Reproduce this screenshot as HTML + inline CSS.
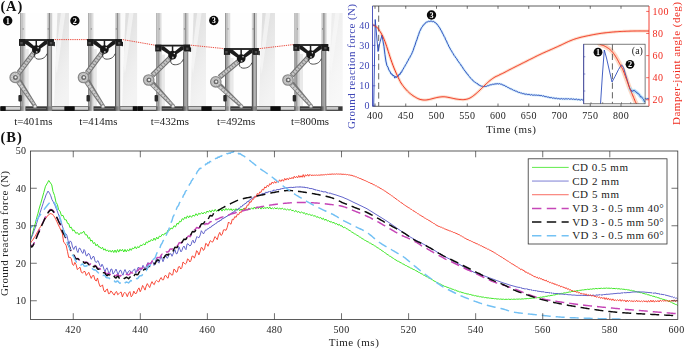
<!DOCTYPE html>
<html><head><meta charset="utf-8"><title>Figure</title>
<style>html,body{margin:0;padding:0;background:#fff;}body{width:685px;height:349px;overflow:hidden;font-family:"Liberation Serif",serif;}svg{display:block;position:absolute;left:0;top:0;opacity:0.999;}text{font-family:"Liberation Serif",serif;}</style></head><body>
<svg width="685" height="349" viewBox="0 0 685 349">
<defs>
<linearGradient id="rail" x1="0" x2="1" y1="0" y2="0"><stop offset="0" stop-color="#8a8a8a"/><stop offset="0.22" stop-color="#b2b2b2"/><stop offset="0.55" stop-color="#d2d2d2"/><stop offset="0.85" stop-color="#ececec"/><stop offset="1" stop-color="#c4c4c4"/></linearGradient>
<linearGradient id="rail2" x1="0" x2="1" y1="0" y2="0"><stop offset="0" stop-color="#7a7a7a"/><stop offset="0.25" stop-color="#a6a6a6"/><stop offset="0.6" stop-color="#c8c8c8"/><stop offset="0.85" stop-color="#dadada"/><stop offset="1" stop-color="#a8a8a8"/></linearGradient>
<linearGradient id="panel" x1="0" x2="0.35" y1="0" y2="1"><stop offset="0" stop-color="#dadada"/><stop offset="0.4" stop-color="#e6e6e6"/><stop offset="0.75" stop-color="#efefef"/><stop offset="1" stop-color="#f3f3f3"/></linearGradient>
<clipPath id="cpA"><rect x="372.5" y="6" width="276.5" height="100.3"/></clipPath>
<clipPath id="cpI"><rect x="583.7" y="44.2" width="61.4" height="59.6"/></clipPath>
<clipPath id="cpB"><rect x="30.5" y="151" width="647.3" height="168.5"/></clipPath>
<clipPath id="cpP"><rect x="0" y="13" width="343" height="98"/></clipPath>
</defs>
<g clip-path="url(#cpP)">
<rect x="0.0" y="13" width="69.0" height="98" fill="#fefefe"/>
<rect x="51.9" y="13" width="17.1" height="98" fill="url(#panel)" opacity="1.00"/>
<path d="M52.1 13 L57.4 13 L53.9 111 L52.1 111 Z" fill="#fbfbfb" opacity="0.95"/>
<path d="M60.9 13 L65.4 13 L56.9 74 L54.9 62 Z" fill="#f8f8f8" opacity="0.7"/>
<rect x="25.5" y="49.0" width="3.2" height="62.0" fill="#e9e9e9"/>
<rect x="0.0" y="106.3" width="69.0" height="4.6" fill="#3a3a3a"/>
<rect x="5.4" y="106.9" width="14.7" height="2.9" fill="#d2d2d2"/>
<rect x="26.1" y="108.2" width="20.0" height="1.0" fill="#7b7b7b"/>
<rect x="52.1" y="106.9" width="12.5" height="2.8" fill="#c6c6c6"/>
<rect x="1.0" y="106.3" width="4.6" height="4.6" fill="#0d0d0d"/>
<rect x="64.5" y="106.3" width="4.6" height="4.6" fill="#0d0d0d"/>
<rect x="20.10" y="13.0" width="1.05" height="33.0" fill="#9a9a9a"/>
<rect x="21.10" y="13.0" width="1.65" height="33.0" fill="#c2c2c2"/>
<rect x="22.70" y="13.0" width="0.85" height="33.0" fill="#adadad"/>
<rect x="23.50" y="13.0" width="1.85" height="33.0" fill="#dedede"/>
<rect x="20.10" y="46.0" width="1.15" height="65.0" fill="#6a6a6a"/>
<rect x="21.20" y="46.0" width="1.75" height="65.0" fill="#979797"/>
<rect x="22.90" y="46.0" width="1.05" height="65.0" fill="#adadad"/>
<rect x="23.90" y="46.0" width="1.55" height="65.0" fill="#cdcdcd"/>
<rect x="46.90" y="13.0" width="1.45" height="33.0" fill="#d6d6d6"/>
<rect x="48.30" y="13.0" width="1.05" height="33.0" fill="#a8a8a8"/>
<rect x="49.30" y="13.0" width="1.05" height="33.0" fill="#5e5e5e"/>
<rect x="50.30" y="13.0" width="1.85" height="33.0" fill="#cfcfcf"/>
<rect x="46.90" y="46.0" width="1.35" height="65.0" fill="#585858"/>
<rect x="48.20" y="46.0" width="1.35" height="65.0" fill="#8a8a8a"/>
<rect x="49.50" y="46.0" width="1.25" height="65.0" fill="#a6a6a6"/>
<rect x="50.70" y="46.0" width="1.35" height="65.0" fill="#828282"/>
<rect x="22.7" y="28.5" width="0.9" height="0.9" fill="#555"/>
<rect x="47.7" y="28.5" width="0.9" height="0.9" fill="#555"/>
<line x1="35.3" y1="51.0" x2="18.8" y2="72.8" stroke="#707070" stroke-width="5.2"/>
<line x1="35.3" y1="51.0" x2="18.8" y2="72.8" stroke="#c4c4c4" stroke-width="3.0"/>
<line x1="35.3" y1="51.0" x2="18.8" y2="72.8" stroke="#858585" stroke-width="3.0" stroke-dasharray="0.9 2.3"/>
<path d="M15.4 81.8 L20.8 79.0 L36.9 105.4 L33.5 107.2 Z" fill="#767676"/>
<path d="M17.0 82.6 L19.8 81.1 L35.8 105.3 L34.4 106.1 Z" fill="#cdcdcd"/>
<line x1="18.4" y1="82.0" x2="35.0" y2="106.2" stroke="#8f8f8f" stroke-width="2.4" stroke-dasharray="0.8 2.6"/>
<circle cx="35.0" cy="106.4" r="1.7" fill="#e6e6e6" stroke="#777" stroke-width="0.7"/>
<circle cx="15.2" cy="77.4" r="5.2" fill="#cfcfcf" stroke="#8a8a8a" stroke-width="1.3"/>
<circle cx="15.2" cy="77.4" r="3.7" fill="none" stroke="#a9a9a9" stroke-width="0.9" stroke-dasharray="1.2 0.9"/>
<circle cx="15.4" cy="77.4" r="2.5" fill="#6a6a6a"/>
<circle cx="15.6" cy="77.3" r="1.15" fill="#f2f2f2"/>
<rect x="18.4" y="95.0" width="3.4" height="6.4" rx="0.9" fill="#2a2a2a"/>
<path d="M34.6 53.1 c-0.8 3.6 0.8 5.8 3.2 6.0 c3.4 0.3 7.6 -0.8 9.2 -5.4" fill="none" stroke="#151515" stroke-width="0.75"/>
<rect x="19.0" y="39.1" width="34.9" height="1.8" fill="#1c1c1c"/>
<rect x="19.0" y="39.1" width="6.2" height="6.8" fill="#1c1c1c"/>
<rect x="47.3" y="39.1" width="6.6" height="6.8" fill="#1c1c1c"/>
<rect x="53.7" y="41.8" width="1.2" height="4.4" fill="#1c1c1c"/>
<path d="M25.0 40.6 L27.6 40.6 L34.7 46.5 L32.7 48.9 L25.0 43.8 Z" fill="#1c1c1c"/>
<path d="M47.5 40.6 L44.9 40.6 L37.9 46.5 L39.9 48.9 L47.5 43.8 Z" fill="#1c1c1c"/>
<rect x="35.5" y="40.5" width="1.5" height="6.5" fill="#1c1c1c"/>
<rect x="20.3" y="42.0" width="2.4" height="2.4" fill="#4d4d4d"/>
<rect x="49.9" y="42.0" width="2.4" height="2.4" fill="#4d4d4d"/>
<circle cx="36.3" cy="49.5" r="4.3" fill="#171717"/>
<circle cx="38.1" cy="47.8" r="0.75" fill="#e8e8e8"/>
<circle cx="36.7" cy="51.9" r="0.9" fill="#b9b9b9"/>
<rect x="69.0" y="13" width="68.3" height="98" fill="#fefefe"/>
<rect x="120.0" y="13" width="17.3" height="98" fill="url(#panel)" opacity="1.00"/>
<path d="M120.2 13 L125.5 13 L122.0 111 L120.2 111 Z" fill="#fbfbfb" opacity="0.95"/>
<path d="M129.0 13 L133.5 13 L125.0 74 L123.0 62 Z" fill="#f8f8f8" opacity="0.7"/>
<rect x="93.6" y="49.0" width="3.2" height="62.0" fill="#e9e9e9"/>
<rect x="69.0" y="106.3" width="68.3" height="4.6" fill="#3a3a3a"/>
<rect x="74.4" y="106.9" width="13.8" height="2.9" fill="#d2d2d2"/>
<rect x="94.2" y="108.2" width="20.0" height="1.0" fill="#7b7b7b"/>
<rect x="120.2" y="106.9" width="12.7" height="2.8" fill="#c6c6c6"/>
<rect x="69.0" y="106.3" width="5.6" height="4.6" fill="#0d0d0d"/>
<rect x="132.8" y="106.3" width="4.6" height="4.6" fill="#0d0d0d"/>
<rect x="88.20" y="13.0" width="1.05" height="33.0" fill="#9a9a9a"/>
<rect x="89.20" y="13.0" width="1.65" height="33.0" fill="#c2c2c2"/>
<rect x="90.80" y="13.0" width="0.85" height="33.0" fill="#adadad"/>
<rect x="91.60" y="13.0" width="1.85" height="33.0" fill="#dedede"/>
<rect x="88.20" y="46.0" width="1.15" height="65.0" fill="#6a6a6a"/>
<rect x="89.30" y="46.0" width="1.75" height="65.0" fill="#979797"/>
<rect x="91.00" y="46.0" width="1.05" height="65.0" fill="#adadad"/>
<rect x="92.00" y="46.0" width="1.55" height="65.0" fill="#cdcdcd"/>
<rect x="115.00" y="13.0" width="1.45" height="33.0" fill="#d6d6d6"/>
<rect x="116.40" y="13.0" width="1.05" height="33.0" fill="#a8a8a8"/>
<rect x="117.40" y="13.0" width="1.05" height="33.0" fill="#5e5e5e"/>
<rect x="118.40" y="13.0" width="1.85" height="33.0" fill="#cfcfcf"/>
<rect x="115.00" y="46.0" width="1.35" height="65.0" fill="#585858"/>
<rect x="116.30" y="46.0" width="1.35" height="65.0" fill="#8a8a8a"/>
<rect x="117.60" y="46.0" width="1.25" height="65.0" fill="#a6a6a6"/>
<rect x="118.80" y="46.0" width="1.35" height="65.0" fill="#828282"/>
<rect x="90.8" y="28.5" width="0.9" height="0.9" fill="#555"/>
<rect x="115.8" y="28.5" width="0.9" height="0.9" fill="#555"/>
<line x1="103.4" y1="51.0" x2="87.1" y2="72.9" stroke="#707070" stroke-width="5.2"/>
<line x1="103.4" y1="51.0" x2="87.1" y2="72.9" stroke="#c4c4c4" stroke-width="3.0"/>
<line x1="103.4" y1="51.0" x2="87.1" y2="72.9" stroke="#858585" stroke-width="3.0" stroke-dasharray="0.9 2.3"/>
<path d="M83.7 81.9 L89.1 79.1 L104.9 105.4 L101.5 107.2 Z" fill="#767676"/>
<path d="M85.3 82.7 L88.1 81.2 L103.8 105.3 L102.4 106.1 Z" fill="#cdcdcd"/>
<line x1="86.7" y1="82.1" x2="103.0" y2="106.2" stroke="#8f8f8f" stroke-width="2.4" stroke-dasharray="0.8 2.6"/>
<circle cx="103.0" cy="106.4" r="1.7" fill="#e6e6e6" stroke="#777" stroke-width="0.7"/>
<circle cx="83.5" cy="77.5" r="5.2" fill="#cfcfcf" stroke="#8a8a8a" stroke-width="1.3"/>
<circle cx="83.5" cy="77.5" r="3.7" fill="none" stroke="#a9a9a9" stroke-width="0.9" stroke-dasharray="1.2 0.9"/>
<circle cx="83.7" cy="77.5" r="2.5" fill="#6a6a6a"/>
<circle cx="83.9" cy="77.4" r="1.15" fill="#f2f2f2"/>
<rect x="86.5" y="95.0" width="3.4" height="6.4" rx="0.9" fill="#2a2a2a"/>
<path d="M102.7 53.1 c-0.8 3.6 0.8 5.8 3.2 6.0 c3.4 0.3 7.6 -0.8 9.2 -5.4" fill="none" stroke="#151515" stroke-width="0.75"/>
<rect x="87.1" y="39.1" width="34.9" height="1.8" fill="#1c1c1c"/>
<rect x="87.1" y="39.1" width="6.2" height="6.8" fill="#1c1c1c"/>
<rect x="115.4" y="39.1" width="6.6" height="6.8" fill="#1c1c1c"/>
<rect x="121.8" y="41.8" width="1.2" height="4.4" fill="#1c1c1c"/>
<path d="M93.1 40.6 L95.7 40.6 L102.8 46.5 L100.8 48.9 L93.1 43.8 Z" fill="#1c1c1c"/>
<path d="M115.6 40.6 L113.0 40.6 L106.0 46.5 L108.0 48.9 L115.6 43.8 Z" fill="#1c1c1c"/>
<rect x="103.7" y="40.5" width="1.5" height="6.5" fill="#1c1c1c"/>
<rect x="88.4" y="42.0" width="2.4" height="2.4" fill="#4d4d4d"/>
<rect x="118.0" y="42.0" width="2.4" height="2.4" fill="#4d4d4d"/>
<circle cx="104.4" cy="49.5" r="4.3" fill="#171717"/>
<circle cx="106.2" cy="47.8" r="0.75" fill="#e8e8e8"/>
<circle cx="104.8" cy="51.9" r="0.9" fill="#b9b9b9"/>
<rect x="137.3" y="13" width="68.7" height="98" fill="#fefefe"/>
<rect x="188.1" y="13" width="17.9" height="98" fill="url(#panel)" opacity="1.00"/>
<path d="M188.3 13 L193.6 13 L190.1 111 L188.3 111 Z" fill="#fbfbfb" opacity="0.95"/>
<path d="M197.1 13 L201.6 13 L193.1 74 L191.1 62 Z" fill="#f8f8f8" opacity="0.7"/>
<rect x="161.7" y="54.6" width="3.2" height="56.4" fill="#e9e9e9"/>
<rect x="137.3" y="106.3" width="68.7" height="4.6" fill="#3a3a3a"/>
<rect x="142.7" y="106.9" width="13.6" height="2.9" fill="#d2d2d2"/>
<rect x="162.3" y="108.2" width="20.0" height="1.0" fill="#7b7b7b"/>
<rect x="188.3" y="106.9" width="13.3" height="2.8" fill="#c6c6c6"/>
<rect x="137.3" y="106.3" width="5.6" height="4.6" fill="#0d0d0d"/>
<rect x="201.5" y="106.3" width="4.6" height="4.6" fill="#0d0d0d"/>
<rect x="156.30" y="13.0" width="1.05" height="38.6" fill="#9a9a9a"/>
<rect x="157.30" y="13.0" width="1.65" height="38.6" fill="#c2c2c2"/>
<rect x="158.90" y="13.0" width="0.85" height="38.6" fill="#adadad"/>
<rect x="159.70" y="13.0" width="1.85" height="38.6" fill="#dedede"/>
<rect x="156.30" y="51.6" width="1.15" height="59.4" fill="#6a6a6a"/>
<rect x="157.40" y="51.6" width="1.75" height="59.4" fill="#979797"/>
<rect x="159.10" y="51.6" width="1.05" height="59.4" fill="#adadad"/>
<rect x="160.10" y="51.6" width="1.55" height="59.4" fill="#cdcdcd"/>
<rect x="183.10" y="13.0" width="1.45" height="38.6" fill="#d6d6d6"/>
<rect x="184.50" y="13.0" width="1.05" height="38.6" fill="#a8a8a8"/>
<rect x="185.50" y="13.0" width="1.05" height="38.6" fill="#5e5e5e"/>
<rect x="186.50" y="13.0" width="1.85" height="38.6" fill="#cfcfcf"/>
<rect x="183.10" y="51.6" width="1.35" height="59.4" fill="#585858"/>
<rect x="184.40" y="51.6" width="1.35" height="59.4" fill="#8a8a8a"/>
<rect x="185.70" y="51.6" width="1.25" height="59.4" fill="#a6a6a6"/>
<rect x="186.90" y="51.6" width="1.35" height="59.4" fill="#828282"/>
<rect x="158.9" y="28.5" width="0.9" height="0.9" fill="#555"/>
<rect x="183.9" y="28.5" width="0.9" height="0.9" fill="#555"/>
<line x1="171.5" y1="56.6" x2="152.3" y2="75.4" stroke="#707070" stroke-width="5.2"/>
<line x1="171.5" y1="56.6" x2="152.3" y2="75.4" stroke="#c4c4c4" stroke-width="3.0"/>
<line x1="171.5" y1="56.6" x2="152.3" y2="75.4" stroke="#858585" stroke-width="3.0" stroke-dasharray="0.9 2.3"/>
<path d="M148.9 84.4 L154.3 81.6 L174.9 105.2 L171.5 107.0 Z" fill="#767676"/>
<path d="M150.5 85.2 L153.3 83.7 L173.8 105.1 L172.4 105.9 Z" fill="#cdcdcd"/>
<line x1="151.9" y1="84.6" x2="173.0" y2="106.0" stroke="#8f8f8f" stroke-width="2.4" stroke-dasharray="0.8 2.6"/>
<circle cx="173.0" cy="106.2" r="1.7" fill="#e6e6e6" stroke="#777" stroke-width="0.7"/>
<circle cx="148.7" cy="80.0" r="5.2" fill="#cfcfcf" stroke="#8a8a8a" stroke-width="1.3"/>
<circle cx="148.7" cy="80.0" r="3.7" fill="none" stroke="#a9a9a9" stroke-width="0.9" stroke-dasharray="1.2 0.9"/>
<circle cx="148.9" cy="80.0" r="2.5" fill="#6a6a6a"/>
<circle cx="149.1" cy="79.9" r="1.15" fill="#f2f2f2"/>
<rect x="154.6" y="95.0" width="3.4" height="6.4" rx="0.9" fill="#2a2a2a"/>
<path d="M170.8 58.7 c-0.8 3.6 0.8 5.8 3.2 6.0 c3.4 0.3 7.6 -0.8 9.2 -5.4" fill="none" stroke="#151515" stroke-width="0.75"/>
<rect x="155.2" y="44.7" width="34.9" height="1.8" fill="#1c1c1c"/>
<rect x="155.2" y="44.7" width="6.2" height="6.8" fill="#1c1c1c"/>
<rect x="183.5" y="44.7" width="6.6" height="6.8" fill="#1c1c1c"/>
<rect x="189.9" y="47.4" width="1.2" height="4.4" fill="#1c1c1c"/>
<path d="M161.2 46.2 L163.8 46.2 L170.9 52.1 L168.9 54.5 L161.2 49.4 Z" fill="#1c1c1c"/>
<path d="M183.7 46.2 L181.1 46.2 L174.1 52.1 L176.1 54.5 L183.7 49.4 Z" fill="#1c1c1c"/>
<rect x="171.8" y="46.1" width="1.5" height="6.5" fill="#1c1c1c"/>
<rect x="156.5" y="47.6" width="2.4" height="2.4" fill="#4d4d4d"/>
<rect x="186.1" y="47.6" width="2.4" height="2.4" fill="#4d4d4d"/>
<circle cx="172.5" cy="55.1" r="4.3" fill="#171717"/>
<circle cx="174.3" cy="53.4" r="0.75" fill="#e8e8e8"/>
<circle cx="172.9" cy="57.5" r="0.9" fill="#b9b9b9"/>
<rect x="206.0" y="13" width="69.0" height="98" fill="#fefefe"/>
<rect x="256.8" y="13" width="18.2" height="98" fill="url(#panel)" opacity="1.00"/>
<path d="M257.0 13 L262.3 13 L258.8 111 L257.0 111 Z" fill="#fbfbfb" opacity="0.95"/>
<path d="M265.8 13 L270.3 13 L261.8 74 L259.8 62 Z" fill="#f8f8f8" opacity="0.7"/>
<rect x="230.4" y="58.0" width="3.2" height="53.0" fill="#e9e9e9"/>
<rect x="206.0" y="106.3" width="69.0" height="4.6" fill="#3a3a3a"/>
<rect x="211.4" y="106.9" width="13.6" height="2.9" fill="#d2d2d2"/>
<rect x="231.0" y="108.2" width="20.0" height="1.0" fill="#7b7b7b"/>
<rect x="257.0" y="106.9" width="13.6" height="2.8" fill="#c6c6c6"/>
<rect x="206.0" y="106.3" width="5.6" height="4.6" fill="#0d0d0d"/>
<rect x="270.5" y="106.3" width="4.6" height="4.6" fill="#0d0d0d"/>
<rect x="225.00" y="13.0" width="1.05" height="42.0" fill="#9a9a9a"/>
<rect x="226.00" y="13.0" width="1.65" height="42.0" fill="#c2c2c2"/>
<rect x="227.60" y="13.0" width="0.85" height="42.0" fill="#adadad"/>
<rect x="228.40" y="13.0" width="1.85" height="42.0" fill="#dedede"/>
<rect x="225.00" y="55.0" width="1.15" height="56.0" fill="#6a6a6a"/>
<rect x="226.10" y="55.0" width="1.75" height="56.0" fill="#979797"/>
<rect x="227.80" y="55.0" width="1.05" height="56.0" fill="#adadad"/>
<rect x="228.80" y="55.0" width="1.55" height="56.0" fill="#cdcdcd"/>
<rect x="251.80" y="13.0" width="1.45" height="42.0" fill="#d6d6d6"/>
<rect x="253.20" y="13.0" width="1.05" height="42.0" fill="#a8a8a8"/>
<rect x="254.20" y="13.0" width="1.05" height="42.0" fill="#5e5e5e"/>
<rect x="255.20" y="13.0" width="1.85" height="42.0" fill="#cfcfcf"/>
<rect x="251.80" y="55.0" width="1.35" height="56.0" fill="#585858"/>
<rect x="253.10" y="55.0" width="1.35" height="56.0" fill="#8a8a8a"/>
<rect x="254.40" y="55.0" width="1.25" height="56.0" fill="#a6a6a6"/>
<rect x="255.60" y="55.0" width="1.35" height="56.0" fill="#828282"/>
<rect x="227.6" y="28.5" width="0.9" height="0.9" fill="#555"/>
<rect x="252.6" y="28.5" width="0.9" height="0.9" fill="#555"/>
<line x1="240.2" y1="60.0" x2="219.4" y2="77.2" stroke="#707070" stroke-width="5.2"/>
<line x1="240.2" y1="60.0" x2="219.4" y2="77.2" stroke="#c4c4c4" stroke-width="3.0"/>
<line x1="240.2" y1="60.0" x2="219.4" y2="77.2" stroke="#858585" stroke-width="3.0" stroke-dasharray="0.9 2.3"/>
<path d="M216.0 86.2 L221.4 83.4 L243.2 105.4 L239.8 107.2 Z" fill="#767676"/>
<path d="M217.6 87.0 L220.4 85.5 L242.1 105.3 L240.7 106.1 Z" fill="#cdcdcd"/>
<line x1="219.0" y1="86.4" x2="241.3" y2="106.2" stroke="#8f8f8f" stroke-width="2.4" stroke-dasharray="0.8 2.6"/>
<circle cx="241.3" cy="106.4" r="1.7" fill="#e6e6e6" stroke="#777" stroke-width="0.7"/>
<circle cx="215.8" cy="81.8" r="5.2" fill="#cfcfcf" stroke="#8a8a8a" stroke-width="1.3"/>
<circle cx="215.8" cy="81.8" r="3.7" fill="none" stroke="#a9a9a9" stroke-width="0.9" stroke-dasharray="1.2 0.9"/>
<circle cx="216.0" cy="81.8" r="2.5" fill="#6a6a6a"/>
<circle cx="216.2" cy="81.7" r="1.15" fill="#f2f2f2"/>
<rect x="223.3" y="95.0" width="3.4" height="6.4" rx="0.9" fill="#2a2a2a"/>
<path d="M239.5 62.1 c-0.8 3.6 0.8 5.8 3.2 6.0 c3.4 0.3 7.6 -0.8 9.2 -5.4" fill="none" stroke="#151515" stroke-width="0.75"/>
<rect x="223.9" y="48.1" width="34.9" height="1.8" fill="#1c1c1c"/>
<rect x="223.9" y="48.1" width="6.2" height="6.8" fill="#1c1c1c"/>
<rect x="252.2" y="48.1" width="6.6" height="6.8" fill="#1c1c1c"/>
<rect x="258.6" y="50.8" width="1.2" height="4.4" fill="#1c1c1c"/>
<path d="M229.9 49.6 L232.5 49.6 L239.6 55.5 L237.6 57.9 L229.9 52.8 Z" fill="#1c1c1c"/>
<path d="M252.4 49.6 L249.8 49.6 L242.8 55.5 L244.8 57.9 L252.4 52.8 Z" fill="#1c1c1c"/>
<rect x="240.4" y="49.5" width="1.5" height="6.5" fill="#1c1c1c"/>
<rect x="225.2" y="51.0" width="2.4" height="2.4" fill="#4d4d4d"/>
<rect x="254.8" y="51.0" width="2.4" height="2.4" fill="#4d4d4d"/>
<circle cx="241.2" cy="58.5" r="4.3" fill="#171717"/>
<circle cx="243.0" cy="56.8" r="0.75" fill="#e8e8e8"/>
<circle cx="241.6" cy="60.9" r="0.9" fill="#b9b9b9"/>
<rect x="275.0" y="13" width="67.6" height="98" fill="#fefefe"/>
<rect x="326.2" y="13" width="16.4" height="98" fill="url(#panel)" opacity="0.55"/>
<path d="M326.4 13 L331.7 13 L328.2 111 L326.4 111 Z" fill="#fbfbfb" opacity="0.95"/>
<path d="M335.2 13 L339.7 13 L331.2 74 L329.2 62 Z" fill="#f8f8f8" opacity="0.7"/>
<rect x="299.8" y="54.0" width="3.2" height="57.0" fill="#e9e9e9"/>
<rect x="275.0" y="106.3" width="67.6" height="4.6" fill="#3a3a3a"/>
<rect x="280.4" y="106.9" width="14.0" height="2.9" fill="#d2d2d2"/>
<rect x="300.4" y="108.2" width="20.0" height="1.0" fill="#7b7b7b"/>
<rect x="326.4" y="106.9" width="11.8" height="2.8" fill="#c6c6c6"/>
<rect x="275.0" y="106.3" width="5.6" height="4.6" fill="#0d0d0d"/>
<rect x="294.40" y="13.0" width="1.05" height="38.0" fill="#9a9a9a"/>
<rect x="295.40" y="13.0" width="1.65" height="38.0" fill="#c2c2c2"/>
<rect x="297.00" y="13.0" width="0.85" height="38.0" fill="#adadad"/>
<rect x="297.80" y="13.0" width="1.85" height="38.0" fill="#dedede"/>
<rect x="294.40" y="51.0" width="1.15" height="60.0" fill="#6a6a6a"/>
<rect x="295.50" y="51.0" width="1.75" height="60.0" fill="#979797"/>
<rect x="297.20" y="51.0" width="1.05" height="60.0" fill="#adadad"/>
<rect x="298.20" y="51.0" width="1.55" height="60.0" fill="#cdcdcd"/>
<rect x="321.20" y="13.0" width="1.45" height="38.0" fill="#d6d6d6"/>
<rect x="322.60" y="13.0" width="1.05" height="38.0" fill="#a8a8a8"/>
<rect x="323.60" y="13.0" width="1.05" height="38.0" fill="#5e5e5e"/>
<rect x="324.60" y="13.0" width="1.85" height="38.0" fill="#cfcfcf"/>
<rect x="321.20" y="51.0" width="1.35" height="60.0" fill="#585858"/>
<rect x="322.50" y="51.0" width="1.35" height="60.0" fill="#8a8a8a"/>
<rect x="323.80" y="51.0" width="1.25" height="60.0" fill="#a6a6a6"/>
<rect x="325.00" y="51.0" width="1.35" height="60.0" fill="#828282"/>
<rect x="297.0" y="28.5" width="0.9" height="0.9" fill="#555"/>
<rect x="322.0" y="28.5" width="0.9" height="0.9" fill="#555"/>
<line x1="309.6" y1="56.0" x2="291.6" y2="75.4" stroke="#707070" stroke-width="5.2"/>
<line x1="309.6" y1="56.0" x2="291.6" y2="75.4" stroke="#c4c4c4" stroke-width="3.0"/>
<line x1="309.6" y1="56.0" x2="291.6" y2="75.4" stroke="#858585" stroke-width="3.0" stroke-dasharray="0.9 2.3"/>
<path d="M288.2 84.4 L293.6 81.6 L312.9 105.2 L309.5 107.0 Z" fill="#767676"/>
<path d="M289.8 85.2 L292.6 83.7 L311.8 105.1 L310.4 105.9 Z" fill="#cdcdcd"/>
<line x1="291.2" y1="84.6" x2="311.0" y2="106.0" stroke="#8f8f8f" stroke-width="2.4" stroke-dasharray="0.8 2.6"/>
<circle cx="311.0" cy="106.2" r="1.7" fill="#e6e6e6" stroke="#777" stroke-width="0.7"/>
<circle cx="288.0" cy="80.0" r="5.2" fill="#cfcfcf" stroke="#8a8a8a" stroke-width="1.3"/>
<circle cx="288.0" cy="80.0" r="3.7" fill="none" stroke="#a9a9a9" stroke-width="0.9" stroke-dasharray="1.2 0.9"/>
<circle cx="288.2" cy="80.0" r="2.5" fill="#6a6a6a"/>
<circle cx="288.4" cy="79.9" r="1.15" fill="#f2f2f2"/>
<rect x="292.7" y="95.0" width="3.4" height="6.4" rx="0.9" fill="#2a2a2a"/>
<path d="M308.9 58.1 c-0.8 3.6 0.8 5.8 3.2 6.0 c3.4 0.3 7.6 -0.8 9.2 -5.4" fill="none" stroke="#151515" stroke-width="0.75"/>
<rect x="293.3" y="44.1" width="34.9" height="1.8" fill="#1c1c1c"/>
<rect x="293.3" y="44.1" width="6.2" height="6.8" fill="#1c1c1c"/>
<rect x="321.6" y="44.1" width="6.6" height="6.8" fill="#1c1c1c"/>
<rect x="328.0" y="46.8" width="1.2" height="4.4" fill="#1c1c1c"/>
<path d="M299.3 45.6 L301.9 45.6 L309.0 51.5 L307.0 53.9 L299.3 48.8 Z" fill="#1c1c1c"/>
<path d="M321.8 45.6 L319.2 45.6 L312.2 51.5 L314.2 53.9 L321.8 48.8 Z" fill="#1c1c1c"/>
<rect x="309.8" y="45.5" width="1.5" height="6.5" fill="#1c1c1c"/>
<rect x="294.6" y="47.0" width="2.4" height="2.4" fill="#4d4d4d"/>
<rect x="324.2" y="47.0" width="2.4" height="2.4" fill="#4d4d4d"/>
<circle cx="310.6" cy="54.5" r="4.3" fill="#171717"/>
<circle cx="312.4" cy="52.8" r="0.75" fill="#e8e8e8"/>
<circle cx="311.0" cy="56.9" r="0.9" fill="#b9b9b9"/>
</g>
<line x1="54.7" y1="39.6" x2="87.0" y2="39.6" stroke="#e8392a" stroke-width="0.9" stroke-dasharray="1.3 0.9"/>
<line x1="122.8" y1="39.6" x2="155.1" y2="45.2" stroke="#e8392a" stroke-width="0.9" stroke-dasharray="1.3 0.9"/>
<line x1="190.9" y1="45.2" x2="223.8" y2="48.6" stroke="#e8392a" stroke-width="0.9" stroke-dasharray="1.3 0.9"/>
<line x1="259.6" y1="48.6" x2="293.2" y2="44.6" stroke="#e8392a" stroke-width="0.9" stroke-dasharray="1.3 0.9"/>
<circle cx="7.7" cy="20.8" r="4.7" fill="#0a0a0a"/>
<text x="7.7" y="23.6" font-size="8.2" font-weight="bold" fill="#fff" text-anchor="middle">1</text>
<circle cx="74.9" cy="20.8" r="4.7" fill="#0a0a0a"/>
<text x="74.9" y="23.6" font-size="8.2" font-weight="bold" fill="#fff" text-anchor="middle">2</text>
<circle cx="213.8" cy="20.5" r="4.7" fill="#0a0a0a"/>
<text x="213.8" y="23.3" font-size="8.2" font-weight="bold" fill="#fff" text-anchor="middle">3</text>
<text x="33.3" y="125.0" font-size="10.5" fill="#222" text-anchor="middle" textLength="38.2" lengthAdjust="spacingAndGlyphs">t=401ms</text>
<text x="98.3" y="125.0" font-size="10.5" fill="#222" text-anchor="middle" textLength="38.2" lengthAdjust="spacingAndGlyphs">t=414ms</text>
<text x="169.8" y="125.0" font-size="10.5" fill="#222" text-anchor="middle" textLength="38.2" lengthAdjust="spacingAndGlyphs">t=432ms</text>
<text x="236.2" y="125.0" font-size="10.5" fill="#222" text-anchor="middle" textLength="38.2" lengthAdjust="spacingAndGlyphs">t=492ms</text>
<text x="310.0" y="125.0" font-size="10.5" fill="#222" text-anchor="middle" textLength="38.2" lengthAdjust="spacingAndGlyphs">t=800ms</text>
<text x="0.4" y="10.9" font-size="14.5" font-weight="bold" fill="#111" letter-spacing="0.9">(A)</text>
<text x="0.4" y="141.6" font-size="14.5" font-weight="bold" fill="#111" letter-spacing="1.0">(B)</text>
<g clip-path="url(#cpA)">
<polyline points="382.00,35.20 383.00,40.93 384.00,47.00 384.95,54.46 385.90,61.50 386.93,64.93 387.97,67.69 389.00,70.00 390.00,71.86 391.00,73.27 392.00,74.50 392.94,75.46 393.88,76.39 394.81,77.07 395.75,77.30 396.60,77.08 397.45,76.57 398.30,75.84 399.15,74.96 400.00,74.00 400.80,72.93 401.60,71.70 402.40,70.36 403.20,68.97 404.00,67.60 404.80,66.24 405.60,64.84 406.40,63.42 407.20,61.97 408.00,60.50 408.84,59.04 409.68,57.59 410.52,56.10 411.36,54.50 412.20,52.75 413.15,50.31 414.10,47.66 415.05,44.87 416.00,42.00 416.90,39.54 417.80,36.90 418.70,34.26 419.60,31.79 420.50,29.70 421.40,28.00 422.30,26.58 423.20,25.38 424.10,24.37 425.00,23.50 425.88,22.66 426.75,22.13 427.62,21.78 428.50,21.50 429.31,21.28 430.12,21.17 430.94,21.17 431.75,21.25 432.56,21.38 433.38,21.58 434.19,21.92 435.00,22.50 435.80,23.12 436.60,23.85 437.40,24.72 438.20,25.76 439.00,27.00 439.83,28.22 440.67,29.61 441.50,31.12 442.33,32.72 443.17,34.36 444.00,36.00 444.83,37.69 445.67,39.46 446.50,41.28 447.33,43.09 448.17,44.85 449.00,46.50 449.83,48.05 450.67,49.54 451.50,50.97 452.33,52.35 453.17,53.69 454.00,55.00 454.95,56.46 455.90,57.81 456.85,59.13 457.80,60.50 458.75,62.00 459.64,63.19 460.54,64.44 461.43,65.74 462.32,67.07 463.21,68.41 464.11,69.72 465.00,71.00 465.88,72.12 466.75,73.27 467.62,74.42 468.50,75.56 469.38,76.66 470.25,77.70 471.12,78.66 472.00,79.50 472.83,80.44 473.67,81.22 474.50,81.88 475.33,82.44 476.17,82.97 477.00,83.50 477.80,84.13 478.60,84.70 479.40,85.22 480.20,85.65 481.00,86.00 481.80,86.26 482.60,86.44 483.40,86.54 484.20,86.56 485.00,86.50 485.83,86.36 486.67,86.13 487.50,85.84 488.33,85.54 489.17,85.24 490.00,85.00 490.83,84.80 491.67,84.60 492.50,84.42 493.33,84.26 494.17,84.12 495.00,84.00 495.94,83.85 496.88,83.73 497.81,83.69 498.75,83.75 499.60,83.87 500.45,84.03 501.30,84.27 502.15,84.58 503.00,85.00 503.88,85.33 504.75,85.72 505.62,86.15 506.50,86.61 507.38,87.09 508.25,87.57 509.12,88.05 510.00,88.50 510.80,88.86 511.60,89.22 512.40,89.60 513.20,89.97 514.00,90.34 514.80,90.71 515.60,91.06 516.40,91.40 517.20,91.71 518.00,92.00 518.88,92.33 519.75,92.63 520.62,92.90 521.50,93.16 522.38,93.39 523.25,93.61 524.12,93.81 525.00,94.00 525.80,94.14 526.60,94.27 527.40,94.39 528.20,94.50 529.00,94.59 529.80,94.68 530.60,94.77 531.40,94.85 532.20,94.92 533.00,95.00 533.88,95.08 534.75,95.12 535.62,95.16 536.50,95.19 537.38,95.22 538.25,95.28 539.12,95.37 540.00,95.50 540.83,95.62 541.67,95.76 542.50,95.91 543.33,96.08 544.17,96.26 545.00,96.45 545.83,96.64 546.67,96.83 547.50,97.02 548.33,97.19 549.17,97.35 550.00,97.50 550.83,97.63 551.67,97.76 552.50,97.89 553.33,98.01 554.17,98.12 555.00,98.23 555.83,98.34 556.67,98.44 557.50,98.53 558.33,98.61 559.17,98.68 560.00,98.75 560.85,98.80 561.69,98.84 562.54,98.86 563.38,98.88 564.23,98.89 565.08,98.90 565.92,98.91 566.77,98.91 567.62,98.92 568.46,98.93 569.31,98.94 570.15,98.97 571.00,99.00 571.81,99.05 572.62,99.10 573.42,99.16 574.23,99.23 575.04,99.29 575.85,99.37 576.65,99.44 577.46,99.51 578.27,99.58 579.08,99.65 579.88,99.70 580.69,99.76 581.50,99.80 582.30,99.82 583.11,99.84 583.91,99.87 584.72,99.89 585.52,99.91 586.33,99.93 587.13,99.95 587.93,99.97 588.74,99.99 589.54,100.01 590.35,100.02 591.15,100.04 591.96,100.05 592.76,100.06 593.57,100.07 594.37,100.07 595.17,100.07 595.98,100.07 596.78,100.06 597.59,100.05 598.39,100.04 599.20,100.02 600.00,100.00 600.80,99.99 601.61,99.98 602.41,99.97 603.21,99.96 604.02,99.95 604.82,99.93 605.62,99.92 606.43,99.90 607.23,99.89 608.03,99.87 608.84,99.86 609.64,99.84 610.44,99.82 611.25,99.80 612.05,99.79 612.85,99.77 613.66,99.75 614.46,99.73 615.26,99.71 616.07,99.68 616.87,99.66 617.67,99.64 618.48,99.62 619.28,99.60 620.08,99.57 620.89,99.55 621.69,99.53 622.49,99.50 623.30,99.48 624.10,99.46 624.90,99.43 625.70,99.41 626.51,99.38 627.31,99.36 628.11,99.33 628.92,99.31 629.72,99.28 630.52,99.26 631.33,99.23 632.13,99.21 632.93,99.18 633.74,99.16 634.54,99.13 635.34,99.10 636.15,99.08 636.95,99.05 637.75,99.03 638.56,99.00 639.36,98.98 640.16,98.95 640.97,98.93 641.77,98.91 642.57,98.88 643.38,98.86 644.18,98.83 644.98,98.81 645.79,98.79 646.59,98.77 647.39,98.74 648.20,98.72 649.00,98.70" fill="none" stroke="#a9dcf7" stroke-width="2.6" stroke-linejoin="round" opacity="0.5"/>
<polyline points="372.50,24.70 373.33,25.11 374.17,25.51 375.00,26.00 375.87,26.50 376.73,27.09 377.60,28.00 378.45,29.00 379.30,30.21 380.15,31.57 381.00,33.00 382.07,34.98 383.13,37.13 384.20,39.60 385.02,41.73 385.85,44.07 386.68,46.52 387.50,49.00 388.32,51.55 389.15,54.19 389.98,56.82 390.80,59.30 391.87,62.35 392.93,65.23 394.00,68.00 394.85,70.03 395.70,71.99 396.55,73.91 397.40,75.80 398.30,77.67 399.20,79.51 400.10,81.30 401.00,83.00 401.92,84.31 402.84,85.58 403.76,86.80 404.68,87.95 405.60,89.00 406.58,90.16 407.55,91.17 408.52,92.10 409.50,93.00 410.38,93.71 411.26,94.40 412.14,95.06 413.02,95.69 413.90,96.30 414.75,96.80 415.60,97.31 416.45,97.79 417.30,98.25 418.15,98.66 419.00,99.00 419.95,99.33 420.90,99.58 421.85,99.78 422.80,99.91 423.75,100.00 424.60,100.04 425.45,100.02 426.30,99.95 427.15,99.84 428.00,99.70 428.83,99.55 429.67,99.37 430.50,99.16 431.33,98.93 432.17,98.71 433.00,98.50 433.83,98.29 434.67,98.08 435.50,97.86 436.33,97.65 437.17,97.46 438.00,97.30 438.82,97.18 439.64,97.06 440.46,96.95 441.29,96.86 442.11,96.79 442.93,96.75 443.75,96.75 444.62,96.79 445.50,96.88 446.38,97.01 447.25,97.16 448.12,97.33 449.00,97.50 449.86,97.66 450.71,97.85 451.57,98.05 452.43,98.26 453.29,98.46 454.14,98.64 455.00,98.80 455.83,98.96 456.67,99.10 457.50,99.23 458.33,99.34 459.17,99.43 460.00,99.50 460.83,99.56 461.67,99.61 462.50,99.64 463.33,99.64 464.17,99.59 465.00,99.50 465.83,99.36 466.67,99.19 467.50,98.97 468.33,98.70 469.17,98.38 470.00,98.00 470.83,97.54 471.67,97.02 472.50,96.44 473.33,95.81 474.17,95.16 475.00,94.50 475.83,93.81 476.67,93.09 477.50,92.34 478.33,91.57 479.17,90.79 480.00,90.00 480.83,89.19 481.67,88.35 482.50,87.50 483.33,86.65 484.17,85.81 485.00,85.00 485.83,84.21 486.67,83.43 487.50,82.66 488.33,81.91 489.17,81.19 490.00,80.50 490.83,79.85 491.67,79.22 492.50,78.62 493.33,78.06 494.17,77.51 495.00,77.00 495.83,76.55 496.67,76.19 497.50,75.84 498.33,75.48 499.17,75.05 500.00,74.50 500.83,74.17 501.67,73.81 502.50,73.43 503.33,73.02 504.17,72.59 505.00,72.16 505.83,71.71 506.67,71.26 507.50,70.81 508.33,70.36 509.17,69.92 510.00,69.50 510.83,69.08 511.67,68.66 512.50,68.24 513.33,67.81 514.17,67.39 515.00,66.97 515.83,66.55 516.67,66.13 517.50,65.71 518.33,65.30 519.17,64.90 520.00,64.50 520.88,64.03 521.75,63.58 522.62,63.14 523.50,62.71 524.38,62.28 525.25,61.85 526.12,61.41 527.00,60.96 527.88,60.49 528.75,60.00 529.55,59.64 530.36,59.26 531.16,58.87 531.96,58.47 532.77,58.07 533.57,57.66 534.38,57.25 535.18,56.84 535.98,56.43 536.79,56.03 537.59,55.63 538.39,55.24 539.20,54.86 540.00,54.50 540.83,54.09 541.67,53.69 542.50,53.30 543.33,52.93 544.17,52.55 545.00,52.19 545.83,51.82 546.67,51.46 547.50,51.10 548.33,50.74 549.17,50.37 550.00,50.00 550.83,49.63 551.67,49.26 552.50,48.89 553.33,48.52 554.17,48.15 555.00,47.78 555.83,47.41 556.67,47.04 557.50,46.66 558.33,46.28 559.17,45.89 560.00,45.50 560.85,45.13 561.69,44.74 562.54,44.34 563.38,43.93 564.23,43.52 565.08,43.11 565.92,42.70 566.77,42.30 567.62,41.91 568.46,41.53 569.31,41.16 570.15,40.82 571.00,40.50 571.82,40.15 572.64,39.82 573.45,39.52 574.27,39.23 575.09,38.96 575.91,38.70 576.73,38.45 577.55,38.21 578.36,37.97 579.18,37.74 580.00,37.50 580.83,37.29 581.67,37.08 582.50,36.88 583.33,36.69 584.17,36.51 585.00,36.33 585.83,36.15 586.67,35.97 587.50,35.80 588.33,35.63 589.17,35.47 590.00,35.30 590.83,35.13 591.67,34.97 592.50,34.81 593.33,34.65 594.17,34.49 595.00,34.34 595.83,34.19 596.67,34.04 597.50,33.90 598.33,33.76 599.17,33.63 600.00,33.50 600.83,33.38 601.67,33.26 602.50,33.15 603.33,33.04 604.17,32.94 605.00,32.84 605.83,32.74 606.67,32.65 607.50,32.56 608.33,32.47 609.17,32.38 610.00,32.30 610.83,32.22 611.67,32.14 612.50,32.06 613.33,31.99 614.17,31.92 615.00,31.86 615.83,31.79 616.67,31.73 617.50,31.67 618.33,31.61 619.17,31.55 620.00,31.50 620.83,31.46 621.67,31.43 622.50,31.39 623.33,31.36 624.17,31.33 625.00,31.29 625.83,31.26 626.67,31.23 627.50,31.20 628.33,31.17 629.17,31.14 630.00,31.12 630.83,31.09 631.67,31.07 632.50,31.05 633.33,31.03 634.17,31.01 635.00,31.00 635.82,30.99 636.65,30.98 637.47,30.97 638.29,30.97 639.12,30.96 639.94,30.96 640.76,30.96 641.59,30.97 642.41,30.97 643.24,30.98 644.06,30.98 644.88,30.98 645.71,30.99 646.53,30.99 647.35,31.00 648.18,31.00 649.00,31.00" fill="none" stroke="#fbd3bd" stroke-width="3.0" stroke-linejoin="round" opacity="0.8"/>
<line x1="378.7" y1="6" x2="378.7" y2="106.3" stroke="#3c3c3c" stroke-width="0.8" stroke-dasharray="6.2 3.4"/>
<polyline points="373.70,106.30 374.50,60.00 375.20,19.50 376.50,34.00 378.00,51.50 380.00,42.00 382.00,35.20 382.00,35.00 383.00,41.08 384.00,46.70 384.95,54.58 385.90,61.00 386.93,65.73 387.97,67.05 389.00,70.49 390.00,71.30 391.00,74.15 392.00,73.81 392.94,75.86 393.88,75.27 394.81,78.17 395.75,76.28 396.60,77.54 397.45,75.88 398.30,76.47 399.15,73.93 400.00,74.63 400.80,72.22 401.60,72.32 402.40,70.00 403.20,69.16 404.00,67.46 404.80,66.37 405.60,64.65 406.40,63.77 407.20,61.82 408.00,60.77 408.84,58.75 409.68,57.80 410.52,55.83 411.36,54.62 412.20,52.63 413.15,50.47 414.10,47.36 415.05,45.10 416.00,41.81 416.90,39.82 417.80,36.66 418.70,34.45 419.60,31.46 420.50,30.01 421.40,27.83 422.30,26.85 423.20,25.13 424.10,24.74 425.00,23.18 425.88,22.85 426.75,21.73 427.62,21.91 428.50,21.27 429.31,21.61 430.12,21.03 430.94,21.41 431.75,21.14 432.56,21.68 433.38,21.25 434.19,22.20 435.00,22.14 435.80,23.31 436.60,23.54 437.40,25.00 438.20,25.49 439.00,27.24 439.83,27.87 440.67,29.99 441.50,30.88 442.33,33.02 443.17,34.24 444.00,36.31 444.83,37.39 445.67,39.86 446.50,40.93 447.33,43.28 448.17,44.63 449.00,46.80 449.83,47.94 450.67,49.78 451.50,50.82 452.33,52.49 453.17,53.58 454.00,55.33 454.95,56.33 455.90,57.99 456.85,58.91 457.80,60.86 458.75,61.88 459.64,63.42 460.54,64.18 461.43,66.11 462.32,66.73 463.21,68.77 464.11,69.54 465.00,71.22 465.88,71.91 466.75,73.63 467.62,74.03 468.50,75.71 469.38,76.51 470.25,77.87 471.12,78.49 472.00,79.75 472.83,80.17 473.67,81.40 474.50,81.77 475.33,82.67 476.17,82.76 477.00,83.77 477.80,83.74 478.60,85.01 479.40,84.96 480.20,85.94 481.00,85.70 481.80,86.38 482.60,86.07 483.40,86.87 484.20,86.20 485.00,86.84 485.83,86.14 486.67,86.35 487.50,85.71 488.33,85.83 489.17,85.13 490.00,85.12 490.83,84.63 491.67,84.75 492.50,84.22 493.33,84.38 494.17,84.02 495.00,84.15 495.94,83.72 496.88,83.94 497.81,83.58 498.75,84.11 499.60,83.58 500.45,84.18 501.30,84.09 502.15,84.79 503.00,84.79 503.88,85.47 504.75,85.36 505.62,86.55 506.50,86.37 507.38,87.33 508.25,87.45 509.12,88.18 510.00,88.30 510.80,89.04 511.60,88.88 512.40,89.75 513.20,89.87 514.00,90.73 514.80,90.45 515.60,91.20 516.40,91.13 517.20,91.82 518.00,91.74 518.88,92.72 519.75,92.27 520.62,93.21 521.50,92.98 522.38,93.60 523.25,93.46 524.12,94.14 525.00,93.74 525.80,94.48 526.60,94.07 527.40,94.56 528.20,94.15 529.00,94.99 529.80,94.33 530.60,95.11 531.40,94.50 532.20,95.25 533.00,94.83 533.88,95.33 534.75,94.92 535.62,95.27 536.50,95.08 537.38,95.41 538.25,95.10 539.12,95.68 540.00,95.11 540.83,95.85 541.67,95.37 542.50,96.31 543.33,95.70 544.17,96.47 545.00,96.29 545.83,96.81 546.67,96.67 547.50,97.18 548.33,96.91 549.17,97.72 550.00,97.15 550.83,97.88 551.67,97.47 552.50,98.23 553.33,97.88 554.17,98.42 555.00,97.86 555.83,98.67 556.67,98.11 557.50,98.77 558.33,98.45 559.17,99.02 560.00,98.55 560.85,99.14 561.69,98.45 562.54,99.08 563.38,98.66 564.23,99.28 565.08,98.58 565.92,99.06 566.77,98.77 567.62,99.06 568.46,98.55 569.31,99.28 570.15,98.82 571.00,99.35 571.81,98.65 572.62,99.40 573.42,98.95 574.23,99.49 575.04,99.16 575.85,99.47 576.65,99.05 577.46,99.81 578.27,99.32 579.08,100.03 579.88,99.47 580.69,100.12 581.50,99.45 582.30,99.99 583.11,99.67 583.91,100.05 584.72,99.72 585.52,100.19 586.33,99.75 587.13,100.18 587.93,99.83 588.74,100.36 589.54,99.80 590.35,100.26 591.15,99.76 591.96,100.42 592.76,99.83 593.57,100.44 594.37,99.82 595.17,100.33 595.98,99.81 596.78,100.17 597.59,99.82 598.39,100.19 599.20,99.92 600.00,100.34 600.80,99.84 601.61,100.22 602.41,99.65 603.21,100.22 604.02,99.75 604.82,100.19 605.62,99.65 606.43,100.24 607.23,99.76 608.03,100.14 608.84,99.68 609.64,100.02 610.44,99.49 611.25,100.06 612.05,99.52 612.85,100.09 613.66,99.37 614.46,99.96 615.26,99.42 616.07,99.94 616.87,99.41 617.67,99.95 618.48,99.38 619.28,99.86 620.08,99.33 620.89,99.93 621.69,99.22 622.49,99.87 623.30,99.10 624.10,99.63 624.90,99.16 625.70,99.79 626.51,99.03 627.31,99.50 628.11,99.20 628.92,99.54 629.72,99.16 630.52,99.43 631.33,99.11 632.13,99.51 632.93,98.85 633.74,99.52 634.54,98.98 635.34,99.42 636.15,98.78 636.95,99.20 637.75,98.66 638.56,99.39 639.36,98.81 640.16,99.34 640.97,98.71 641.77,99.15 642.57,98.48 643.38,99.21 644.18,98.69 644.98,99.04 645.79,98.53 646.59,98.97 647.39,98.58 648.20,98.92 649.00,98.38" fill="none" stroke="#2444b9" stroke-width="0.9" stroke-linejoin="round"/>
<polyline points="372.50,24.70 373.33,25.11 374.17,25.51 375.00,26.00 375.87,26.50 376.73,27.09 377.60,28.00 378.45,29.00 379.30,30.21 380.15,31.57 381.00,33.00 382.07,34.98 383.13,37.13 384.20,39.60 385.02,41.73 385.85,44.07 386.68,46.52 387.50,49.00 388.32,51.55 389.15,54.19 389.98,56.82 390.80,59.30 391.87,62.35 392.93,65.23 394.00,68.00 394.85,70.03 395.70,71.99 396.55,73.91 397.40,75.80 398.30,77.67 399.20,79.51 400.10,81.30 401.00,83.00 401.92,84.31 402.84,85.58 403.76,86.80 404.68,87.95 405.60,89.00 406.58,90.16 407.55,91.17 408.52,92.10 409.50,93.00 410.38,93.71 411.26,94.40 412.14,95.06 413.02,95.69 413.90,96.30 414.75,96.80 415.60,97.31 416.45,97.79 417.30,98.25 418.15,98.66 419.00,99.00 419.95,99.33 420.90,99.58 421.85,99.78 422.80,99.91 423.75,100.00 424.60,100.04 425.45,100.02 426.30,99.95 427.15,99.84 428.00,99.70 428.83,99.55 429.67,99.37 430.50,99.16 431.33,98.93 432.17,98.71 433.00,98.50 433.83,98.29 434.67,98.08 435.50,97.86 436.33,97.65 437.17,97.46 438.00,97.30 438.82,97.18 439.64,97.06 440.46,96.95 441.29,96.86 442.11,96.79 442.93,96.75 443.75,96.75 444.62,96.79 445.50,96.88 446.38,97.01 447.25,97.16 448.12,97.33 449.00,97.50 449.86,97.66 450.71,97.85 451.57,98.05 452.43,98.26 453.29,98.46 454.14,98.64 455.00,98.80 455.83,98.96 456.67,99.10 457.50,99.23 458.33,99.34 459.17,99.43 460.00,99.50 460.83,99.56 461.67,99.61 462.50,99.64 463.33,99.64 464.17,99.59 465.00,99.50 465.83,99.36 466.67,99.19 467.50,98.97 468.33,98.70 469.17,98.38 470.00,98.00 470.83,97.54 471.67,97.02 472.50,96.44 473.33,95.81 474.17,95.16 475.00,94.50 475.83,93.81 476.67,93.09 477.50,92.34 478.33,91.57 479.17,90.79 480.00,90.00 480.83,89.19 481.67,88.35 482.50,87.50 483.33,86.65 484.17,85.81 485.00,85.00 485.83,84.21 486.67,83.43 487.50,82.66 488.33,81.91 489.17,81.19 490.00,80.50 490.83,79.85 491.67,79.22 492.50,78.62 493.33,78.06 494.17,77.51 495.00,77.00 495.83,76.55 496.67,76.19 497.50,75.84 498.33,75.48 499.17,75.05 500.00,74.50 500.83,74.17 501.67,73.81 502.50,73.43 503.33,73.02 504.17,72.59 505.00,72.16 505.83,71.71 506.67,71.26 507.50,70.81 508.33,70.36 509.17,69.92 510.00,69.50 510.83,69.08 511.67,68.66 512.50,68.24 513.33,67.81 514.17,67.39 515.00,66.97 515.83,66.55 516.67,66.13 517.50,65.71 518.33,65.30 519.17,64.90 520.00,64.50 520.88,64.03 521.75,63.58 522.62,63.14 523.50,62.71 524.38,62.28 525.25,61.85 526.12,61.41 527.00,60.96 527.88,60.49 528.75,60.00 529.55,59.64 530.36,59.26 531.16,58.87 531.96,58.47 532.77,58.07 533.57,57.66 534.38,57.25 535.18,56.84 535.98,56.43 536.79,56.03 537.59,55.63 538.39,55.24 539.20,54.86 540.00,54.50 540.83,54.09 541.67,53.69 542.50,53.30 543.33,52.93 544.17,52.55 545.00,52.19 545.83,51.82 546.67,51.46 547.50,51.10 548.33,50.74 549.17,50.37 550.00,50.00 550.83,49.63 551.67,49.26 552.50,48.89 553.33,48.52 554.17,48.15 555.00,47.78 555.83,47.41 556.67,47.04 557.50,46.66 558.33,46.28 559.17,45.89 560.00,45.50 560.85,45.13 561.69,44.74 562.54,44.34 563.38,43.93 564.23,43.52 565.08,43.11 565.92,42.70 566.77,42.30 567.62,41.91 568.46,41.53 569.31,41.16 570.15,40.82 571.00,40.50 571.82,40.15 572.64,39.82 573.45,39.52 574.27,39.23 575.09,38.96 575.91,38.70 576.73,38.45 577.55,38.21 578.36,37.97 579.18,37.74 580.00,37.50 580.83,37.29 581.67,37.08 582.50,36.88 583.33,36.69 584.17,36.51 585.00,36.33 585.83,36.15 586.67,35.97 587.50,35.80 588.33,35.63 589.17,35.47 590.00,35.30 590.83,35.13 591.67,34.97 592.50,34.81 593.33,34.65 594.17,34.49 595.00,34.34 595.83,34.19 596.67,34.04 597.50,33.90 598.33,33.76 599.17,33.63 600.00,33.50 600.83,33.38 601.67,33.26 602.50,33.15 603.33,33.04 604.17,32.94 605.00,32.84 605.83,32.74 606.67,32.65 607.50,32.56 608.33,32.47 609.17,32.38 610.00,32.30 610.83,32.22 611.67,32.14 612.50,32.06 613.33,31.99 614.17,31.92 615.00,31.86 615.83,31.79 616.67,31.73 617.50,31.67 618.33,31.61 619.17,31.55 620.00,31.50 620.83,31.46 621.67,31.43 622.50,31.39 623.33,31.36 624.17,31.33 625.00,31.29 625.83,31.26 626.67,31.23 627.50,31.20 628.33,31.17 629.17,31.14 630.00,31.12 630.83,31.09 631.67,31.07 632.50,31.05 633.33,31.03 634.17,31.01 635.00,31.00 635.82,30.99 636.65,30.98 637.47,30.97 638.29,30.97 639.12,30.96 639.94,30.96 640.76,30.96 641.59,30.97 642.41,30.97 643.24,30.98 644.06,30.98 644.88,30.98 645.71,30.99 646.53,30.99 647.35,31.00 648.18,31.00 649.00,31.00" fill="none" stroke="#f0301c" stroke-width="1.0" stroke-linejoin="round"/>
</g>
<line x1="372.5" y1="6.0" x2="649.0" y2="6.0" stroke="#333" stroke-width="0.8"/>
<line x1="372.5" y1="106.3" x2="649.0" y2="106.3" stroke="#333" stroke-width="0.8"/>
<line x1="372.5" y1="6.0" x2="372.5" y2="106.3" stroke="#3e46b6" stroke-width="0.9"/>
<line x1="649.0" y1="6.0" x2="649.0" y2="106.3" stroke="#f02a1e" stroke-width="0.9"/>
<line x1="375.00" y1="106.3" x2="375.00" y2="103.5" stroke="#333" stroke-width="0.7"/>
<line x1="375.00" y1="6.0" x2="375.00" y2="8.8" stroke="#333" stroke-width="0.7"/>
<text x="375.00" y="118.8" font-size="10" fill="#222" text-anchor="middle" letter-spacing="0.35">400</text>
<line x1="405.75" y1="106.3" x2="405.75" y2="103.5" stroke="#333" stroke-width="0.7"/>
<line x1="405.75" y1="6.0" x2="405.75" y2="8.8" stroke="#333" stroke-width="0.7"/>
<text x="405.75" y="118.8" font-size="10" fill="#222" text-anchor="middle" letter-spacing="0.35">450</text>
<line x1="436.50" y1="106.3" x2="436.50" y2="103.5" stroke="#333" stroke-width="0.7"/>
<line x1="436.50" y1="6.0" x2="436.50" y2="8.8" stroke="#333" stroke-width="0.7"/>
<text x="436.50" y="118.8" font-size="10" fill="#222" text-anchor="middle" letter-spacing="0.35">500</text>
<line x1="467.25" y1="106.3" x2="467.25" y2="103.5" stroke="#333" stroke-width="0.7"/>
<line x1="467.25" y1="6.0" x2="467.25" y2="8.8" stroke="#333" stroke-width="0.7"/>
<text x="467.25" y="118.8" font-size="10" fill="#222" text-anchor="middle" letter-spacing="0.35">550</text>
<line x1="498.00" y1="106.3" x2="498.00" y2="103.5" stroke="#333" stroke-width="0.7"/>
<line x1="498.00" y1="6.0" x2="498.00" y2="8.8" stroke="#333" stroke-width="0.7"/>
<text x="498.00" y="118.8" font-size="10" fill="#222" text-anchor="middle" letter-spacing="0.35">600</text>
<line x1="528.75" y1="106.3" x2="528.75" y2="103.5" stroke="#333" stroke-width="0.7"/>
<line x1="528.75" y1="6.0" x2="528.75" y2="8.8" stroke="#333" stroke-width="0.7"/>
<text x="528.75" y="118.8" font-size="10" fill="#222" text-anchor="middle" letter-spacing="0.35">650</text>
<line x1="559.50" y1="106.3" x2="559.50" y2="103.5" stroke="#333" stroke-width="0.7"/>
<line x1="559.50" y1="6.0" x2="559.50" y2="8.8" stroke="#333" stroke-width="0.7"/>
<text x="559.50" y="118.8" font-size="10" fill="#222" text-anchor="middle" letter-spacing="0.35">700</text>
<line x1="590.25" y1="106.3" x2="590.25" y2="103.5" stroke="#333" stroke-width="0.7"/>
<line x1="590.25" y1="6.0" x2="590.25" y2="8.8" stroke="#333" stroke-width="0.7"/>
<text x="590.25" y="118.8" font-size="10" fill="#222" text-anchor="middle" letter-spacing="0.35">750</text>
<line x1="621.00" y1="106.3" x2="621.00" y2="103.5" stroke="#333" stroke-width="0.7"/>
<line x1="621.00" y1="6.0" x2="621.00" y2="8.8" stroke="#333" stroke-width="0.7"/>
<text x="621.00" y="118.8" font-size="10" fill="#222" text-anchor="middle" letter-spacing="0.35">800</text>
<line x1="372.5" y1="106.00" x2="375.3" y2="106.00" stroke="#3e46b6" stroke-width="0.7"/>
<text x="369.9" y="109.30" font-size="10" fill="#3e46b6" text-anchor="end" letter-spacing="0.3">0</text>
<line x1="372.5" y1="85.80" x2="375.3" y2="85.80" stroke="#3e46b6" stroke-width="0.7"/>
<text x="369.9" y="89.10" font-size="10" fill="#3e46b6" text-anchor="end" letter-spacing="0.3">10</text>
<line x1="372.5" y1="65.60" x2="375.3" y2="65.60" stroke="#3e46b6" stroke-width="0.7"/>
<text x="369.9" y="68.90" font-size="10" fill="#3e46b6" text-anchor="end" letter-spacing="0.3">20</text>
<line x1="372.5" y1="45.40" x2="375.3" y2="45.40" stroke="#3e46b6" stroke-width="0.7"/>
<text x="369.9" y="48.70" font-size="10" fill="#3e46b6" text-anchor="end" letter-spacing="0.3">30</text>
<line x1="372.5" y1="25.20" x2="375.3" y2="25.20" stroke="#3e46b6" stroke-width="0.7"/>
<text x="369.9" y="28.50" font-size="10" fill="#3e46b6" text-anchor="end" letter-spacing="0.3">40</text>
<line x1="649.0" y1="99.80" x2="646.2" y2="99.80" stroke="#f02a1e" stroke-width="0.7"/>
<text x="652.6" y="103.10" font-size="10" fill="#f02a1e" letter-spacing="0.45">20</text>
<line x1="649.0" y1="77.70" x2="646.2" y2="77.70" stroke="#f02a1e" stroke-width="0.7"/>
<text x="652.6" y="81.00" font-size="10" fill="#f02a1e" letter-spacing="0.45">40</text>
<line x1="649.0" y1="55.60" x2="646.2" y2="55.60" stroke="#f02a1e" stroke-width="0.7"/>
<text x="652.6" y="58.90" font-size="10" fill="#f02a1e" letter-spacing="0.45">60</text>
<line x1="649.0" y1="33.50" x2="646.2" y2="33.50" stroke="#f02a1e" stroke-width="0.7"/>
<text x="652.6" y="36.80" font-size="10" fill="#f02a1e" letter-spacing="0.45">80</text>
<line x1="649.0" y1="11.40" x2="646.2" y2="11.40" stroke="#f02a1e" stroke-width="0.7"/>
<text x="652.6" y="14.70" font-size="10" fill="#f02a1e" letter-spacing="0.45">100</text>
<text x="511" y="132.6" font-size="11" fill="#222" text-anchor="middle" textLength="50" lengthAdjust="spacing">Time (ms)</text>
<text transform="translate(354.9 66.5) rotate(-90)" font-size="11" fill="#3e46b6" text-anchor="middle" textLength="125" lengthAdjust="spacing">Ground reaction force (N)</text>
<text transform="translate(679.6 63.5) rotate(-90)" font-size="11" fill="#f02a1e" text-anchor="middle" textLength="123" lengthAdjust="spacing">Damper-joint angle (deg)</text>
<circle cx="431.5" cy="15.0" r="4.7" fill="#0a0a0a"/>
<text x="431.5" y="17.8" font-size="8.2" font-weight="bold" fill="#fff" text-anchor="middle">3</text>
<rect x="583.7" y="44.2" width="61.4" height="59.6" fill="#fff"/>
<g clip-path="url(#cpI)">
<polyline points="597.00,40.00 597.56,40.88 598.12,41.80 598.68,42.71 599.24,43.53 599.80,44.20 600.32,44.52 600.85,44.75 601.38,44.93 601.90,45.08 602.42,45.22 602.95,45.37 603.48,45.56 604.00,45.80 604.50,46.04 605.00,46.29 605.50,46.56 606.00,46.85 606.50,47.14 607.00,47.45 607.50,47.76 608.00,48.07 608.50,48.39 609.00,48.70 609.50,49.14 610.00,49.57 610.50,50.01 611.00,50.46 611.50,50.94 612.00,51.45 612.50,52.00 613.05,52.70 613.60,53.44 614.15,54.22 614.70,55.04 615.25,55.88 615.80,56.75 616.33,57.64 616.87,58.55 617.40,59.50 617.93,60.47 618.47,61.47 619.00,62.50 619.53,63.40 620.06,64.31 620.59,65.24 621.11,66.20 621.64,67.19 622.17,68.22 622.70,69.30 623.25,70.63 623.80,72.02 624.35,73.47 624.90,74.96 625.45,76.47 626.00,78.00 626.50,79.35 627.00,80.74 627.50,82.16 628.00,83.59 628.50,85.00 629.00,86.38 629.50,87.70 630.00,88.96 630.50,90.19 631.00,91.39 631.50,92.56 632.00,93.71 632.50,94.86 633.00,96.00 633.57,97.37 634.13,98.77 634.70,100.16 635.27,101.48 635.83,102.68 636.40,103.70 636.93,105.13 637.47,106.06 638.00,107.00" fill="none" stroke="#fbcdb4" stroke-width="4.6" stroke-linejoin="round" opacity="0.8"/>
<polyline points="629.50,87.70 632.00,91.50 634.00,90.50 636.40,92.20 638.50,94.00 640.50,96.50 642.50,98.20 644.40,101.40 646.00,102.00" fill="none" stroke="#a9dcf7" stroke-width="3.6" stroke-linejoin="round" opacity="0.8"/>
<line x1="612.4" y1="44.2" x2="612.4" y2="103.8" stroke="#3c3c3c" stroke-width="0.8" stroke-dasharray="6.2 3.4"/>
<polyline points="600.50,104.00 602.40,75.00 604.30,50.00 606.50,58.00 609.00,69.00 612.00,82.00 615.00,76.50 618.50,69.50 621.50,64.80 623.50,67.50 626.00,76.00 629.50,87.70 630.33,89.57 631.17,89.92 632.00,91.75 633.00,90.34 634.00,90.97 634.80,90.52 635.60,91.86 636.40,91.99 637.10,93.34 637.80,93.00 638.50,94.21 639.50,94.58 640.50,97.01 641.50,96.75 642.50,98.42 643.45,99.18 644.40,101.61 645.20,101.07 646.00,102.41" fill="none" stroke="#2444b9" stroke-width="0.85" stroke-linejoin="round"/>
<polyline points="597.00,40.00 597.56,40.88 598.12,41.80 598.68,42.71 599.24,43.53 599.80,44.20 600.32,44.52 600.85,44.75 601.38,44.93 601.90,45.08 602.42,45.22 602.95,45.37 603.48,45.56 604.00,45.80 604.50,46.04 605.00,46.29 605.50,46.56 606.00,46.85 606.50,47.14 607.00,47.45 607.50,47.76 608.00,48.07 608.50,48.39 609.00,48.70 609.50,49.14 610.00,49.57 610.50,50.01 611.00,50.46 611.50,50.94 612.00,51.45 612.50,52.00 613.05,52.70 613.60,53.44 614.15,54.22 614.70,55.04 615.25,55.88 615.80,56.75 616.33,57.64 616.87,58.55 617.40,59.50 617.93,60.47 618.47,61.47 619.00,62.50 619.53,63.40 620.06,64.31 620.59,65.24 621.11,66.20 621.64,67.19 622.17,68.22 622.70,69.30 623.25,70.63 623.80,72.02 624.35,73.47 624.90,74.96 625.45,76.47 626.00,78.00 626.50,79.35 627.00,80.74 627.50,82.16 628.00,83.59 628.50,85.00 629.00,86.38 629.50,87.70 630.00,88.96 630.50,90.19 631.00,91.39 631.50,92.56 632.00,93.71 632.50,94.86 633.00,96.00 633.57,97.37 634.13,98.77 634.70,100.16 635.27,101.48 635.83,102.68 636.40,103.70 636.93,105.13 637.47,106.06 638.00,107.00" fill="none" stroke="#f0301c" stroke-width="1.0" stroke-linejoin="round"/>
</g>
<rect x="583.7" y="44.2" width="61.4" height="59.6" fill="none" stroke="#444" stroke-width="0.7"/>
<line x1="583.7" y1="44.2" x2="583.7" y2="103.8" stroke="#3e46b6" stroke-width="0.8"/>
<line x1="583.7" y1="56.75" x2="585.3" y2="56.75" stroke="#3e46b6" stroke-width="0.6"/>
<line x1="583.7" y1="74.00" x2="585.3" y2="74.00" stroke="#3e46b6" stroke-width="0.6"/>
<line x1="583.7" y1="91.00" x2="585.3" y2="91.00" stroke="#3e46b6" stroke-width="0.6"/>
<line x1="591.0" y1="103.80" x2="591.0" y2="102.20" stroke="#444" stroke-width="0.6"/>
<line x1="602.7" y1="103.80" x2="602.7" y2="102.20" stroke="#444" stroke-width="0.6"/>
<line x1="621.5" y1="103.80" x2="621.5" y2="102.20" stroke="#444" stroke-width="0.6"/>
<line x1="630.7" y1="103.80" x2="630.7" y2="102.20" stroke="#444" stroke-width="0.6"/>
<text x="637.4" y="54.2" font-size="10" fill="#222" text-anchor="middle">(a)</text>
<circle cx="598.0" cy="52.2" r="4.4" fill="#0a0a0a"/>
<text x="598.0" y="55.0" font-size="8.2" font-weight="bold" fill="#fff" text-anchor="middle">1</text>
<circle cx="630.0" cy="64.3" r="4.4" fill="#0a0a0a"/>
<text x="630.0" y="67.1" font-size="8.2" font-weight="bold" fill="#fff" text-anchor="middle">2</text>
<g clip-path="url(#cpB)" fill="none" stroke-linejoin="round">
<polyline points="27.00,251.79 28.75,246.13 30.50,239.90 32.25,234.35 34.00,227.78 35.33,223.28 36.67,217.83 38.00,213.24 39.33,207.97 40.67,203.70 42.00,198.94 43.75,192.62 45.50,186.24 47.50,182.89 48.75,180.48 50.50,182.99 51.75,184.86 53.00,191.52 54.50,195.37 56.00,202.31 57.33,204.38 58.67,209.77 60.00,211.17 61.50,215.78 63.00,215.33 64.62,219.66 66.25,219.87 67.50,223.33 68.75,223.64 70.00,227.75 71.33,227.21 72.67,230.80 74.00,229.87 75.75,233.22 77.50,232.60 79.00,234.82 80.50,232.78 82.12,233.19 83.75,231.21 85.38,234.83 87.00,234.88 88.25,238.39 89.50,237.42 90.75,241.13 92.00,240.14 93.33,243.57 94.67,242.56 96.00,245.90 97.33,244.21 98.67,247.05 100.00,246.93 101.25,248.73 102.50,247.26 103.75,250.15 105.00,248.77 106.25,251.11 107.50,249.85 108.75,251.84 110.00,250.32 111.25,252.16 112.50,250.24 113.75,252.53 115.00,250.02 116.25,252.51 117.50,249.61 118.75,252.11 120.00,249.35 121.25,251.09 122.50,249.33 123.75,252.01 125.00,249.42 126.25,251.86 127.50,249.54 128.75,251.14 130.00,248.63 131.25,250.37 132.50,248.00 133.80,248.78 135.10,246.61 136.40,248.75 137.70,246.50 139.00,247.77 140.50,245.07 142.00,245.67 143.50,243.76 145.00,245.01 146.25,241.91 147.50,242.98 148.75,240.85 150.00,241.69 151.33,239.49 152.67,240.90 154.00,238.10 155.33,240.27 156.67,237.18 158.00,238.96 159.40,236.10 160.80,236.66 162.20,234.32 163.60,235.13 165.00,233.17 166.50,233.41 168.00,230.02 169.50,230.29 171.00,228.02 172.50,228.75 174.00,225.71 175.50,226.91 177.00,223.25 178.30,224.18 179.60,221.24 180.90,221.89 182.20,218.65 183.50,219.75 184.80,217.09 186.10,218.58 187.40,215.84 188.70,217.71 190.00,215.63 191.50,217.32 193.00,215.06 194.50,216.19 196.00,213.68 197.40,215.62 198.80,213.19 200.20,214.32 201.60,212.53 203.00,214.01 204.33,212.17 205.67,213.49 207.00,211.07 208.33,212.22 209.67,210.39 211.00,212.23 212.40,209.88 213.80,211.55 215.20,209.39 216.60,211.48 218.00,209.75 219.33,210.52 220.67,208.79 222.00,211.11 223.33,209.00 224.67,210.49 226.00,208.39 227.25,210.22 228.50,208.65 229.75,210.27 231.00,208.69 232.25,210.66 233.50,208.95 234.75,210.46 236.00,208.60 237.25,210.19 238.50,208.72 239.75,210.79 241.00,208.95 242.25,210.30 243.50,208.35 244.75,210.20 246.00,208.76 247.40,210.20 248.80,207.95 250.20,209.39 251.60,207.76 253.00,209.24 254.33,207.02 255.67,209.07 257.00,206.81 258.33,208.76 259.67,207.26 261.00,209.12 262.25,206.61 263.50,208.89 264.75,207.39 266.00,208.57 267.25,207.07 268.50,208.79 269.75,206.84 271.00,209.04 272.25,207.87 273.50,208.72 274.75,207.65 276.00,209.03 277.25,207.70 278.50,209.15 279.75,208.18 281.00,209.19 282.33,208.07 283.67,209.49 285.00,208.72 286.33,209.99 287.67,209.12 289.00,210.27 290.40,209.18 291.80,210.71 293.20,210.32 294.60,211.78 296.00,210.42 297.40,212.33 298.80,211.39 300.20,213.09 301.60,211.81 303.00,213.39 304.33,212.58 305.67,214.49 307.00,213.31 308.33,214.91 309.67,214.23 311.00,215.47 312.40,214.95 313.80,216.17 315.20,215.62 316.60,217.37 318.00,216.62 319.33,218.16 320.67,217.38 322.00,219.35 323.33,218.20 324.67,220.29 326.00,219.16 327.33,221.14 328.67,220.57 330.00,222.14 331.33,221.50 332.67,223.06 334.00,222.29 335.33,224.10 336.67,223.47 338.00,225.23 339.33,224.30 340.67,226.07 342.00,225.75 343.38,227.69 344.75,227.10 346.12,228.58 347.50,229.04 348.88,230.17 350.25,230.72 351.62,232.02 353.00,232.61 354.28,233.71 355.56,234.18 356.83,235.20 358.11,235.69 359.39,236.88 360.67,237.37 361.94,238.55 363.22,239.04 364.50,240.12 365.75,240.62 367.00,241.49 368.25,241.90 369.50,242.98 370.75,243.30 372.00,244.37 373.25,244.77 374.50,245.77 375.75,246.32 377.00,247.53 378.25,247.99 379.50,249.03 380.75,249.61 382.00,250.81 383.25,251.38 384.50,252.54 385.75,253.19 387.00,254.39 388.25,254.90 389.50,256.08 390.75,256.53 392.00,257.58 393.33,258.31 394.67,259.36 396.00,260.00 397.33,261.05 398.67,261.38 400.00,262.40 401.33,262.92 402.67,263.89 404.00,264.30 405.30,265.40 406.60,265.66 407.90,266.70 409.20,267.10 410.50,268.00 411.80,268.43 413.10,269.36 414.40,269.70 415.70,270.66 417.00,271.14 418.30,272.17 419.60,272.61 420.90,273.62 422.20,273.92 423.50,275.13 424.80,275.50 426.10,276.53 427.40,276.92 428.70,277.98 430.00,278.25 431.33,279.46 432.67,279.92 434.00,281.04 435.33,281.42 436.67,282.50 438.00,282.85 439.33,283.80 440.67,284.18 442.00,285.19 443.25,285.47 444.50,286.35 445.75,286.56 447.00,287.29 448.25,287.48 449.50,288.16 450.75,288.38 452.00,289.18 453.25,289.32 454.50,290.10 455.75,290.15 457.00,291.07 458.25,291.19 459.50,291.92 460.75,291.93 462.00,292.57 463.25,292.73 464.50,293.31 465.75,293.46 467.00,294.01 468.25,293.91 469.50,294.56 470.75,294.49 472.00,295.19 473.25,295.19 474.50,295.77 475.75,295.64 477.00,296.31 478.25,296.12 479.50,296.76 480.75,296.66 482.00,297.21 483.25,296.97 484.50,297.63 485.75,297.45 487.00,297.98 488.25,297.79 489.50,298.19 490.75,298.18 492.00,298.48 493.25,298.44 494.50,298.76 495.75,298.64 497.00,299.11 498.25,298.85 499.50,299.25 500.75,299.00 502.00,299.37 503.33,299.14 504.67,299.52 506.00,299.20 507.33,299.43 508.67,299.10 510.00,299.52 511.33,299.17 512.67,299.41 514.00,299.09 515.33,299.39 516.67,299.07 518.00,299.19 519.33,298.98 520.67,299.23 522.00,298.86 523.33,299.03 524.67,298.69 526.00,298.80 527.30,298.52 528.60,298.65 529.90,298.32 531.20,298.37 532.50,298.11 533.80,298.16 535.10,297.78 536.40,297.88 537.70,297.59 539.00,297.65 540.33,297.18 541.67,297.31 543.00,296.84 544.33,296.83 545.67,296.33 547.00,296.30 548.33,295.75 549.67,295.85 551.00,295.42 552.30,295.42 553.60,294.93 554.90,294.96 556.20,294.39 557.50,294.35 558.80,293.93 560.10,293.94 561.40,293.37 562.70,293.45 564.00,292.85 565.30,293.00 566.60,292.41 567.90,292.41 569.20,291.95 570.50,292.06 571.80,291.44 573.10,291.53 574.40,291.11 575.70,291.18 577.00,290.56 578.33,290.77 579.67,290.34 581.00,290.28 582.33,289.95 583.67,289.95 585.00,289.62 586.33,289.61 587.67,289.20 589.00,289.48 590.38,289.01 591.75,289.22 593.12,288.70 594.50,288.95 595.88,288.40 597.25,288.79 598.62,288.40 600.00,288.52 601.29,288.16 602.57,288.53 603.86,288.17 605.14,288.35 606.43,288.00 607.71,288.31 609.00,288.11 610.25,288.41 611.50,288.13 612.75,288.61 614.00,288.35 615.25,288.72 616.50,288.40 617.75,288.91 619.00,288.63 620.25,289.15 621.50,288.90 622.75,289.30 624.00,289.19 625.25,289.66 626.50,289.46 627.75,289.91 629.00,289.91 630.25,290.42 631.50,290.29 632.75,290.92 634.00,290.86 635.25,291.44 636.50,291.49 637.75,292.09 639.00,292.13 640.25,292.67 641.50,292.65 642.75,293.39 644.00,293.47 645.25,294.02 646.50,294.05 647.75,294.82 649.00,294.77 650.25,295.59 651.50,295.58 652.75,296.33 654.00,296.27 655.25,296.97 656.50,297.10 657.75,297.69 659.00,297.86 660.25,298.63 661.50,298.69 662.75,299.33 664.00,299.46 665.25,300.02 666.50,300.18 667.75,300.90 669.00,301.18 670.26,301.90 671.51,302.21 672.77,303.17 674.03,303.56 675.29,304.36 676.54,304.64 677.80,305.60" stroke="#35e61b" stroke-width="0.95"/>
<polyline points="27.00,248.91 28.17,246.14 29.33,242.92 30.50,240.14 31.67,237.01 32.83,234.33 34.00,230.84 35.00,228.40 36.00,225.11 37.00,222.17 38.00,218.80 39.00,216.01 40.00,212.76 41.00,209.87 42.00,206.83 43.00,203.79 44.00,200.40 45.00,198.12 46.00,194.99 47.00,193.10 48.00,191.09 49.50,193.11 50.75,195.76 52.00,199.61 53.00,201.31 54.00,203.57 55.00,205.54 56.00,208.07 57.00,210.43 58.00,213.28 59.00,215.77 60.00,219.11 61.00,221.76 62.00,225.08 63.00,228.08 64.00,231.40 65.00,233.63 66.00,233.85 67.00,235.72 68.00,240.46 69.00,243.90 70.19,240.87 71.38,242.17 72.56,246.97 73.75,249.49 74.80,247.01 75.85,245.91 76.90,250.60 77.95,252.53 79.00,248.36 80.00,248.18 81.00,250.31 82.00,252.58 83.00,253.36 84.00,249.48 85.00,250.89 86.00,255.52 87.00,256.03 88.00,253.70 89.00,253.67 90.00,255.58 91.00,259.27 92.00,258.52 93.00,256.40 94.00,256.67 95.00,261.07 96.00,262.53 97.00,261.57 98.00,260.63 99.00,263.06 100.00,265.61 101.00,266.72 102.00,264.18 103.00,266.02 104.00,269.34 105.00,272.11 106.00,269.00 107.00,267.81 108.00,270.56 109.00,273.71 110.00,272.15 111.00,269.00 112.00,269.25 113.00,274.05 114.00,272.79 115.00,270.98 116.00,269.09 117.00,271.65 118.00,275.04 119.00,272.41 120.00,270.22 121.00,270.44 122.00,273.44 123.00,275.21 124.00,271.70 125.00,269.53 126.00,272.03 127.08,274.11 128.17,271.86 129.25,270.63 130.33,270.93 131.42,272.76 132.50,271.29 133.58,269.99 134.67,268.86 135.75,273.04 136.83,271.10 137.92,267.58 139.00,267.62 140.00,269.52 141.00,270.31 142.00,267.65 143.00,265.32 144.00,267.02 145.00,268.91 146.00,267.20 147.00,264.38 148.00,262.51 149.00,267.32 150.00,265.88 151.00,262.13 152.00,261.03 153.00,262.36 154.00,265.43 155.00,263.87 156.00,259.30 157.00,258.53 158.00,262.08 159.00,263.17 160.00,259.22 161.00,256.07 162.00,258.80 163.00,261.69 164.00,258.94 165.00,255.05 166.00,255.48 167.00,258.31 168.00,257.47 169.00,254.50 170.00,254.11 171.00,253.67 172.00,256.28 173.00,254.01 174.00,251.43 175.00,249.74 176.00,253.52 177.00,253.87 178.00,250.98 179.00,246.91 180.00,249.48 181.00,251.90 182.00,250.28 183.00,247.19 184.00,246.02 185.00,248.34 186.00,249.67 187.00,244.18 188.00,243.74 189.00,245.18 190.00,246.01 191.00,244.97 192.00,241.58 193.00,240.15 194.00,242.91 195.00,242.45 196.00,239.03 197.00,236.49 198.08,237.63 199.17,237.52 200.25,234.91 201.33,230.70 202.42,232.33 203.50,233.94 204.56,231.86 205.62,229.92 206.69,230.13 207.75,228.51 208.81,228.64 209.88,227.11 210.94,227.37 212.00,225.59 213.00,225.83 214.00,224.22 215.00,224.41 216.00,223.08 217.00,222.90 218.00,221.21 219.00,221.95 220.00,220.06 221.00,220.63 222.00,218.61 223.00,219.01 224.00,217.56 225.00,217.93 226.00,216.27 227.00,216.73 228.00,214.92 229.00,215.61 230.00,213.88 231.06,214.11 232.12,212.23 233.19,212.83 234.25,210.94 235.31,211.43 236.38,209.69 237.44,210.06 238.50,208.31 239.57,208.53 240.64,206.43 241.71,206.88 242.79,204.98 243.86,205.00 244.93,203.35 246.00,203.54 247.07,201.52 248.14,202.01 249.21,200.11 250.29,200.09 251.36,198.31 252.43,198.53 253.50,197.05 254.56,197.28 255.62,196.07 256.69,196.58 257.75,195.02 258.81,195.75 259.88,194.28 260.94,195.08 262.00,193.38 263.00,193.94 264.00,192.95 265.00,193.77 266.00,191.89 267.00,193.11 268.00,191.50 269.00,192.20 270.00,191.17 271.00,191.70 272.00,190.58 273.00,191.40 274.00,189.69 275.00,190.78 276.00,189.63 277.00,190.04 278.00,189.04 279.00,190.02 280.00,188.70 281.00,189.46 282.00,188.14 283.00,189.01 284.00,187.55 285.00,188.53 286.00,187.50 287.00,188.21 288.00,187.38 289.00,187.87 290.00,187.06 291.00,187.69 292.00,187.01 293.00,188.03 294.00,186.80 295.00,187.84 296.00,186.50 297.00,187.55 298.00,186.41 299.00,187.61 300.00,186.25 301.00,187.61 302.00,186.53 303.00,187.85 304.00,186.68 305.00,188.04 306.00,187.07 307.00,188.23 308.00,187.32 309.00,188.67 310.00,188.11 311.00,189.02 312.00,188.15 313.00,189.56 314.00,188.89 315.00,190.28 316.00,189.37 317.00,190.63 318.00,189.98 319.00,191.08 320.00,190.56 321.00,191.62 322.00,190.90 323.00,192.24 324.00,191.40 325.00,192.24 326.00,191.51 327.00,193.16 328.00,192.41 329.00,193.57 330.00,192.73 331.00,193.68 332.00,193.73 333.00,194.17 334.00,194.34 335.00,194.81 336.00,194.84 337.00,195.45 338.00,195.54 339.00,196.12 340.00,196.23 341.00,196.78 342.00,196.92 343.00,197.45 344.00,197.74 345.00,198.42 346.00,198.61 347.00,199.20 348.00,199.49 349.00,200.18 350.00,200.42 351.00,201.17 352.00,201.37 353.00,202.20 354.00,202.40 355.00,203.10 356.00,203.35 357.00,203.98 358.00,204.30 359.00,205.03 360.00,205.23 361.00,205.98 362.00,206.13 363.00,206.91 364.00,207.21 365.00,207.87 366.00,208.14 367.00,208.86 368.00,209.31 369.00,210.18 370.00,210.48 371.00,211.43 372.00,211.70 373.00,212.66 374.00,212.95 375.00,213.91 376.00,214.26 377.00,215.17 378.00,215.43 379.00,216.30 380.00,216.78 381.00,217.54 382.00,217.96 383.00,218.88 384.00,219.19 385.00,220.13 386.00,220.49 387.00,221.38 388.00,221.83 389.00,222.74 390.00,223.20 391.00,224.04 392.00,224.58 393.00,225.53 394.00,225.92 395.00,226.90 396.00,227.32 397.00,228.37 398.00,228.82 399.00,229.75 400.00,230.09 401.00,231.17 402.00,231.52 403.00,232.47 404.00,232.91 405.00,233.85 406.00,234.22 407.00,235.08 408.00,235.44 409.00,236.36 410.00,236.76 411.00,237.50 412.00,237.92 413.00,238.67 414.00,239.05 415.00,239.81 416.00,240.15 417.00,240.97 418.00,241.18 419.00,241.94 420.00,242.19 421.00,242.98 422.00,243.25 423.00,244.04 424.00,244.33 425.00,245.06 426.00,245.43 427.00,246.32 428.00,246.62 429.00,247.44 430.00,247.70 431.00,248.52 432.00,248.87 433.00,249.74 434.00,249.96 435.00,250.85 436.00,251.23 437.00,252.12 438.00,252.58 439.00,253.33 440.00,253.69 441.00,254.55 442.00,254.87 443.00,255.62 444.00,256.03 445.00,256.75 446.00,257.05 447.00,257.89 448.00,258.12 449.00,258.87 450.00,259.11 451.00,259.97 452.00,260.18 453.00,261.04 454.00,261.27 455.00,262.02 456.00,262.39 457.00,263.15 458.00,263.39 459.00,264.31 460.00,264.52 461.00,265.42 462.00,265.77 463.00,266.69 464.00,267.03 465.00,267.79 466.00,268.13 467.00,268.96 468.00,269.22 469.00,269.96 470.00,270.25 471.00,270.91 472.00,271.14 473.00,271.88 474.00,272.19 475.00,272.85 476.00,272.96 477.00,273.48 478.00,273.60 479.00,274.17 480.00,274.23 481.00,274.74 482.00,274.88 483.00,275.53 484.00,275.69 485.00,276.28 486.00,276.44 487.00,277.06 488.00,277.17 489.00,277.80 490.00,277.94 491.00,278.50 492.00,278.66 493.00,279.29 494.00,279.33 495.00,279.94 496.00,280.19 497.00,280.78 498.00,280.89 499.00,281.48 500.00,281.65 501.00,282.23 502.00,282.36 503.00,282.92 504.00,283.07 505.00,283.58 506.00,283.59 507.00,284.28 508.00,284.28 509.00,284.95 510.00,284.96 511.00,285.49 512.00,285.51 513.00,286.04 514.00,286.09 515.00,286.59 516.00,286.63 517.00,287.15 518.00,287.09 519.00,287.55 520.00,287.21 521.00,288.29 522.00,287.71 523.00,288.97 524.00,288.14 525.00,289.38 526.00,288.37 527.00,289.48 528.00,288.87 529.00,290.08 530.00,289.24 531.00,290.26 532.00,289.72 533.00,290.76 534.00,290.12 535.00,291.11 536.00,290.19 537.00,291.38 538.00,290.78 539.00,291.75 540.00,291.03 541.00,292.12 542.00,291.31 543.00,292.27 544.00,291.47 545.00,292.70 546.00,292.03 547.00,292.92 548.00,292.09 549.00,293.25 550.00,292.35 551.00,293.39 552.00,292.62 553.00,293.65 554.00,292.95 555.00,293.94 556.00,293.16 557.00,293.83 558.00,293.19 559.00,294.19 560.00,293.42 561.00,294.38 562.00,293.77 563.00,294.51 564.00,293.99 565.00,294.83 566.00,293.82 567.00,294.93 568.00,294.26 569.00,295.24 570.00,294.26 571.00,295.21 572.00,294.69 573.00,295.51 574.00,294.59 575.00,295.54 576.00,294.88 577.00,295.74 578.00,294.97 579.00,295.67 580.00,295.03 581.00,295.77 582.00,294.82 583.00,295.93 584.00,294.96 585.00,295.87 586.00,295.17 587.00,295.93 588.00,295.24 589.00,295.86 590.00,294.86 591.00,295.91 592.00,294.92 593.00,295.71 594.00,294.81 595.00,295.81 596.00,294.63 597.00,295.47 598.00,294.73 599.00,295.21 600.00,294.34 601.00,295.37 602.00,294.42 603.00,295.21 604.00,294.15 605.00,295.00 606.00,293.87 607.00,294.75 608.00,293.85 609.00,294.57 610.00,293.73 611.00,294.19 612.00,293.59 613.00,294.12 614.00,293.24 615.00,293.96 616.00,293.13 617.00,293.73 618.00,292.84 619.00,293.65 620.00,292.99 621.00,293.41 622.00,292.46 623.00,293.33 624.00,292.31 625.00,293.13 626.00,292.42 627.00,292.96 628.00,292.13 629.00,293.02 630.00,292.10 631.00,292.65 632.00,291.73 633.00,292.41 634.00,291.55 635.00,292.41 636.00,291.57 637.00,292.43 638.00,291.46 639.00,292.23 640.00,291.47 641.00,292.38 642.00,291.57 643.00,292.38 644.00,291.63 645.00,292.52 646.00,291.96 647.00,292.67 648.00,292.15 649.00,292.89 650.00,292.19 651.00,293.17 652.00,292.50 653.00,293.50 654.00,292.73 655.00,293.44 656.00,292.72 657.00,294.06 658.00,293.09 659.00,294.38 660.00,293.62 661.00,294.72 662.00,293.92 663.00,295.01 664.00,294.28 665.00,295.27 666.00,294.91 667.00,295.82 668.00,295.40 669.00,296.37 670.10,295.96 671.20,297.05 672.30,296.46 673.40,297.80 674.50,297.26 675.60,298.25 676.70,298.04 677.80,299.00" stroke="#5557c6" stroke-width="0.9"/>
<polyline points="27.00,247.81 28.17,246.57 29.33,244.48 30.50,243.14 31.67,241.16 32.83,239.88 34.00,237.93 35.33,236.02 36.67,233.27 38.00,231.07 39.33,228.46 40.67,226.51 42.00,223.84 43.33,221.96 44.67,219.70 46.00,218.08 47.50,215.69 49.00,214.65 50.12,213.56 51.25,213.82 52.38,214.06 53.50,215.57 54.67,217.09 55.83,219.55 57.00,221.89 58.33,224.84 59.67,227.57 61.00,230.66 62.33,233.42 63.67,242.21 65.00,243.43 66.25,245.71 67.50,251.66 68.75,257.53 70.00,257.24 71.25,258.47 72.50,264.49 73.67,265.41 74.83,262.38 76.00,264.39 77.33,269.58 78.67,268.35 80.00,267.19 81.25,271.96 82.50,273.24 83.75,271.46 85.00,271.55 86.25,275.53 87.50,273.92 88.75,272.32 90.00,275.57 91.25,278.38 92.50,275.66 93.75,275.44 95.00,279.98 96.25,281.01 97.50,277.98 98.75,282.95 100.00,286.49 101.25,286.23 102.50,284.87 103.75,290.41 105.00,292.04 106.17,289.89 107.33,288.98 108.50,293.71 109.67,293.55 110.83,290.94 112.00,292.00 113.14,293.95 114.29,295.14 115.43,292.33 116.57,291.52 117.71,294.76 118.86,293.79 120.00,292.54 121.20,292.07 122.40,297.00 123.60,293.74 124.80,292.33 126.00,293.65 127.30,296.68 128.60,293.13 129.90,291.60 131.20,296.85 132.50,295.37 133.80,291.08 135.10,293.56 136.40,293.35 137.70,289.87 139.00,287.88 140.20,291.76 141.40,289.31 142.60,285.45 143.80,287.61 145.00,290.11 146.17,286.14 147.33,283.62 148.50,285.71 149.67,287.57 150.83,284.15 152.00,281.63 153.14,283.78 154.29,284.62 155.43,281.40 156.57,280.41 157.71,281.48 158.86,281.99 160.00,279.08 161.17,277.54 162.33,279.83 163.50,279.80 164.67,275.93 165.83,275.41 167.00,277.56 168.14,278.14 169.29,272.72 170.43,273.19 171.57,275.10 172.71,274.93 173.86,269.15 175.00,269.87 176.14,272.25 177.29,271.79 178.43,266.92 179.57,266.47 180.71,269.04 181.86,267.61 183.00,261.99 184.14,262.95 185.29,264.16 186.43,263.11 187.57,258.84 188.71,259.67 189.86,262.01 191.00,260.31 192.12,256.00 193.25,256.25 194.38,258.15 195.50,254.95 196.62,250.64 197.75,252.00 198.88,254.91 200.00,251.90 201.14,247.55 202.29,247.86 203.43,250.45 204.57,248.93 205.71,243.43 206.86,244.05 208.00,246.29 209.14,243.39 210.29,240.60 211.43,241.57 212.57,242.13 213.71,239.93 214.86,236.58 216.00,237.65 217.25,239.68 218.50,235.06 219.75,232.37 221.00,235.43 222.25,234.38 223.50,229.86 224.75,229.74 226.00,230.36 227.25,227.30 228.50,222.00 229.75,223.25 231.00,224.22 232.25,219.23 233.50,219.69 234.80,216.55 236.10,217.31 237.40,214.13 238.70,214.70 240.00,211.92 241.20,212.60 242.40,209.92 243.60,210.41 244.80,207.96 246.00,208.41 247.25,205.10 248.50,205.18 249.75,201.65 251.00,202.33 252.25,199.31 253.50,199.29 254.75,196.35 256.00,197.31 257.25,193.50 258.50,194.57 259.75,191.95 261.00,192.42 262.25,189.25 263.50,190.01 264.75,186.93 266.00,187.95 267.25,185.28 268.50,186.49 269.75,183.64 271.00,184.61 272.20,181.98 273.40,183.38 274.60,181.56 275.80,183.14 277.00,181.04 278.30,182.38 279.60,179.81 280.90,181.52 282.20,179.54 283.50,181.23 284.71,178.42 285.93,180.10 287.14,178.23 288.36,179.83 289.57,177.72 290.79,179.03 292.00,177.33 293.12,178.70 294.25,176.25 295.38,177.81 296.50,176.41 297.62,177.93 298.75,175.47 299.88,177.42 301.00,175.74 302.11,177.30 303.22,174.58 304.33,177.26 305.44,174.72 306.56,176.12 307.67,174.37 308.78,176.20 309.89,174.39 311.00,175.53 312.11,175.11 313.22,175.39 314.33,175.13 315.44,175.33 316.56,175.00 317.67,175.38 318.78,175.01 319.89,175.24 321.00,174.79 322.11,175.03 323.22,174.76 324.33,174.90 325.44,174.41 326.56,174.75 327.67,174.22 328.78,174.47 329.89,174.11 331.00,174.36 332.10,173.93 333.20,174.25 334.30,173.99 335.40,174.26 336.50,173.83 337.60,174.17 338.70,174.01 339.80,174.19 340.90,173.98 342.00,174.38 343.11,174.18 344.22,174.45 345.33,174.27 346.44,174.74 347.56,174.49 348.67,175.03 349.78,174.94 350.89,175.39 352.00,175.28 353.11,176.05 354.22,176.04 355.33,176.78 356.44,176.80 357.56,177.67 358.67,177.79 359.78,178.56 360.89,178.62 362.00,179.45 363.11,179.69 364.22,180.35 365.33,180.65 366.44,181.32 367.56,181.66 368.67,182.44 369.78,182.68 370.89,183.47 372.00,183.55 373.14,184.58 374.29,184.76 375.43,185.77 376.57,185.94 377.71,187.02 378.86,187.20 380.00,188.24 381.17,188.63 382.33,189.50 383.50,190.05 384.67,190.96 385.83,191.51 387.00,192.65 388.12,193.01 389.25,194.15 390.38,194.66 391.50,195.68 392.62,196.20 393.75,197.32 394.88,197.92 396.00,198.97 397.21,199.56 398.43,200.79 399.64,201.35 400.86,202.64 402.07,203.04 403.29,204.23 404.50,204.80 405.71,206.02 406.93,206.50 408.14,207.48 409.36,208.01 410.57,209.06 411.79,209.51 413.00,210.73 414.12,211.08 415.25,212.06 416.38,212.53 417.50,213.62 418.62,213.95 419.75,215.05 420.88,215.46 422.00,216.38 423.14,216.76 424.29,217.85 425.43,218.30 426.57,219.18 427.71,219.58 428.86,220.53 430.00,220.92 431.17,221.88 432.33,222.45 433.50,223.43 434.67,223.78 435.83,224.93 437.00,225.37 438.11,226.23 439.22,226.40 440.33,227.09 441.44,227.23 442.56,227.99 443.67,228.19 444.78,229.00 445.89,229.27 447.00,229.91 448.11,230.10 449.22,230.80 450.33,230.92 451.44,231.56 452.56,231.80 453.67,232.57 454.78,232.63 455.89,233.39 457.00,233.67 458.11,234.41 459.22,234.63 460.33,235.67 461.44,235.94 462.56,236.81 463.67,237.24 464.78,238.23 465.89,238.52 467.00,239.47 468.14,239.58 469.27,240.50 470.41,240.65 471.55,241.41 472.68,241.78 473.82,242.57 474.95,242.74 476.09,243.63 477.23,243.71 478.36,244.69 479.50,244.87 480.64,245.80 481.77,245.89 482.91,246.88 484.05,247.12 485.18,247.98 486.32,248.20 487.45,249.16 488.59,249.25 489.73,250.18 490.86,250.52 492.00,251.36 493.10,251.75 494.20,252.68 495.30,253.04 496.40,253.99 497.50,254.48 498.60,255.41 499.70,255.86 500.80,256.76 501.90,257.08 503.00,258.23 504.10,258.60 505.20,259.47 506.30,259.90 507.40,261.08 508.50,261.38 509.60,262.36 510.70,262.87 511.80,263.91 512.90,264.11 514.00,265.07 515.11,265.60 516.22,266.52 517.33,266.92 518.44,267.88 519.56,268.18 520.67,269.72 521.78,269.00 522.89,270.55 524.00,270.27 525.11,272.19 526.22,271.77 527.33,273.21 528.44,272.82 529.56,274.32 530.67,274.01 531.78,275.48 532.89,275.35 534.00,276.81 535.11,276.45 536.22,277.54 537.33,277.11 538.44,278.68 539.56,277.68 540.67,279.11 541.78,278.70 542.89,280.08 544.00,279.52 545.11,280.99 546.22,280.12 547.33,281.73 548.44,281.31 549.56,282.76 550.67,282.21 551.78,283.51 552.89,282.89 554.00,284.44 555.11,283.64 556.22,285.08 557.33,284.61 558.44,285.96 559.56,285.38 560.67,286.97 561.78,286.15 562.89,287.46 564.00,287.05 565.11,288.48 566.22,287.63 567.33,289.27 568.44,288.63 569.56,290.19 570.67,289.65 571.78,291.01 572.89,290.54 574.00,291.66 575.11,291.02 576.22,292.33 577.33,291.48 578.44,293.05 579.56,292.41 580.67,293.88 581.78,293.19 582.89,294.33 584.00,293.67 585.11,294.66 586.22,293.86 587.33,295.39 588.44,294.72 589.56,295.57 590.67,294.81 591.78,296.31 592.89,295.24 594.00,296.57 595.11,295.95 596.22,297.26 597.33,296.54 598.44,297.65 599.56,296.84 600.67,298.42 601.78,297.29 602.89,298.72 604.00,297.42 605.11,299.45 606.22,297.73 607.33,299.72 608.44,298.07 609.56,300.10 610.67,298.76 611.78,300.45 612.89,298.85 614.00,300.71 615.20,299.73 616.40,300.58 617.60,299.72 618.80,300.87 620.00,299.39 621.20,301.29 622.40,299.70 623.60,301.10 624.80,300.04 626.00,301.99 627.18,300.06 628.36,301.68 629.55,300.21 630.73,301.50 631.91,300.68 633.09,301.72 634.27,300.57 635.45,301.82 636.64,300.17 637.82,301.79 639.00,300.58 640.18,301.91 641.36,300.81 642.55,301.89 643.73,300.59 644.91,301.92 646.09,300.72 647.27,302.23 648.45,300.51 649.64,302.15 650.82,300.15 652.00,302.01 653.18,300.25 654.36,302.17 655.55,300.62 656.73,301.88 657.91,300.43 659.09,301.99 660.27,300.07 661.45,301.40 662.64,300.40 663.82,301.26 665.00,300.33 666.16,301.37 667.33,300.13 668.49,301.93 669.65,300.23 670.82,301.47 671.98,300.02 673.15,301.41 674.31,299.82 675.47,301.80 676.64,300.30 677.80,301.29" stroke="#f8402f" stroke-width="0.95"/>
<polyline points="29.50,243.50 30.50,245.00 31.50,246.50 33.00,245.00 34.00,243.09 35.00,240.50 36.00,238.43 37.00,236.07 38.00,233.50 39.00,231.38 40.00,229.09 41.00,226.76 42.00,224.50 43.00,222.26 44.00,220.00 45.00,217.87 46.00,216.00 47.00,213.94 48.00,212.28 49.00,211.00 50.00,209.78 51.00,209.50 52.00,209.85 53.00,210.65 54.00,212.00 55.00,213.46 56.00,215.28 57.00,217.33 58.00,219.50 59.00,221.77 60.00,223.62 61.00,225.92 62.00,229.97 63.10,232.83 64.20,234.25 65.30,236.72 66.40,240.20 67.50,242.90 68.67,244.78 69.83,247.04 71.00,251.42 72.00,253.04 73.00,253.93 74.00,254.67 75.00,256.98 76.00,258.65 77.00,258.56 78.00,258.41 79.00,259.59 80.00,261.02 81.00,261.13 82.00,260.41 83.00,260.65 84.00,261.99 85.00,262.57 86.00,262.11 87.00,262.22 88.00,263.00 89.00,264.24 90.00,264.47 91.00,263.10 92.00,263.75 93.00,265.87 94.00,265.92 95.00,265.27 96.00,266.09 97.00,267.21 98.00,268.76 99.00,268.39 100.00,268.45 101.00,270.02 102.00,271.80 103.00,272.09 104.00,271.67 105.00,271.86 106.00,273.57 107.00,274.53 108.00,273.29 109.00,273.47 110.00,274.20 111.00,275.76 112.00,274.96 113.00,274.05 114.00,274.66 115.00,275.65 116.00,275.84 117.00,274.73 118.00,274.91 119.00,275.73 120.00,276.32 121.07,275.37 122.14,274.65 123.21,274.95 124.29,275.70 125.36,275.19 126.43,274.20 127.50,274.69 128.58,274.91 129.67,274.19 130.75,272.29 131.83,272.76 132.92,273.13 134.00,271.90 135.00,270.75 136.00,270.07 137.00,270.79 138.00,270.46 139.00,269.11 140.00,268.01 141.00,268.70 142.00,268.53 143.00,267.54 144.00,265.61 145.00,266.11 146.00,266.57 147.00,265.56 148.00,263.61 149.00,263.39 150.00,263.79 151.00,263.45 152.00,261.31 153.00,260.04 154.00,260.58 155.00,260.77 156.00,259.72 157.00,257.77 158.00,257.36 159.00,257.59 160.00,257.65 161.00,255.44 162.00,254.16 163.00,254.60 164.00,254.86 165.00,253.06 166.00,252.07 167.00,251.93 168.00,251.94 169.00,251.18 170.00,249.17 171.00,248.85 172.00,249.27 173.00,248.60 174.00,247.21 175.00,245.69 176.00,245.84 177.00,246.02 178.00,245.08 179.00,243.02 180.00,242.56 181.00,243.01 182.00,242.64 183.00,240.50 184.00,238.96 185.00,239.63 186.00,239.34 187.00,237.64 188.00,236.36 189.00,235.80 190.00,236.76 191.00,235.41 192.25,231.56 193.50,230.01 194.56,229.88 195.62,228.91 196.69,227.56 197.75,227.78 198.81,228.24 199.88,227.19 200.94,225.77 202.00,225.24 203.00,226.11 204.00,226.09 205.00,224.20 206.00,223.50 207.00,224.01 208.00,223.85 209.00,223.14 210.00,222.01 211.00,221.57 212.00,222.16 213.00,221.08 214.00,219.71 215.00,219.04 216.00,219.69 217.00,219.25 218.00,218.81 219.00,218.38 220.00,217.94 221.00,217.50 222.00,217.17 223.00,216.83 224.00,216.49 225.00,216.15 226.00,215.81 227.00,215.47 228.00,215.13 229.00,214.80 230.00,214.46 231.00,214.14 232.00,213.82 233.00,213.50 234.00,213.21 235.00,212.93 236.00,212.64 237.00,212.36 238.00,212.08 239.00,211.81 240.00,211.53 241.00,211.27 242.00,211.00 243.00,210.74 244.00,210.49 245.00,210.24 246.00,210.00 247.00,209.75 248.00,209.50 249.00,209.26 250.00,209.03 251.00,208.80 252.00,208.57 253.00,208.36 254.00,208.14 255.00,207.93 256.00,207.72 257.00,207.51 258.00,207.30 259.00,207.11 260.00,206.92 261.00,206.73 262.00,206.54 263.00,206.35 264.00,206.17 265.00,205.99 266.00,205.81 267.00,205.64 268.00,205.47 269.00,205.31 270.00,205.15 271.00,205.00 272.00,204.85 273.00,204.70 274.00,204.56 275.00,204.42 276.00,204.29 277.00,204.17 278.00,204.05 279.00,203.93 280.00,203.82 281.00,203.71 282.00,203.60 283.00,203.50 284.00,203.40 285.00,203.31 286.00,203.21 287.00,203.12 288.00,203.03 289.00,202.94 290.00,202.86 291.00,202.78 292.00,202.71 293.00,202.65 294.00,202.59 295.00,202.54 296.00,202.50 297.00,202.46 298.00,202.44 299.00,202.44 300.00,202.45 301.00,202.46 302.00,202.49 303.00,202.51 304.00,202.54 305.00,202.57 306.00,202.60 307.00,202.62 308.00,202.65 309.00,202.67 310.00,202.70 311.00,202.72 312.00,202.76 313.00,202.80 314.00,202.86 315.00,202.92 316.00,203.00 317.00,203.07 318.00,203.14 319.00,203.23 320.00,203.31 321.00,203.40 322.00,203.50 323.00,203.60 324.00,203.71 325.00,203.82 326.00,203.94 327.00,204.06 328.00,204.18 329.00,204.30 330.00,204.42 331.00,204.54 332.00,204.65 333.00,204.77 334.00,204.88 335.00,205.01 336.00,205.14 337.00,205.28 338.00,205.44 339.00,205.61 340.00,205.80 341.00,206.01 342.00,206.25 343.00,206.54 344.00,206.85 345.00,207.18 346.00,207.54 347.00,207.92 348.00,208.31 349.00,208.71 350.00,209.12 351.00,209.54 352.00,209.96 353.00,210.38 354.00,210.80 355.00,211.19 356.00,211.58 357.00,211.97 358.00,212.37 359.00,212.77 360.00,213.18 361.00,213.60 362.00,214.02 363.00,214.45 364.00,214.89 365.00,215.33 366.00,215.79 367.00,216.25 368.00,216.73 369.00,217.21 370.00,217.71 371.00,218.22 372.00,218.74 373.00,219.26 374.00,219.79 375.00,220.33 376.00,220.86 377.00,221.40 378.00,221.93 379.00,222.47 380.00,223.00 381.00,223.58 382.00,224.17 383.00,224.77 384.00,225.37 385.00,225.97 386.00,226.58 387.00,227.18 388.00,227.77 389.00,228.35 390.00,228.92 391.00,229.47 392.00,230.00 393.00,230.62 394.00,231.21 395.00,231.79 396.00,232.36 397.00,232.91 398.00,233.44 399.00,233.97 400.00,234.49 401.00,235.00 402.00,235.50 403.00,235.98 404.00,236.44 405.00,236.87 406.00,237.29 407.00,237.70 408.00,238.12 409.00,238.55 410.00,239.00 411.00,239.48 412.00,240.00 413.00,240.53 414.00,241.07 415.00,241.60 416.00,242.16 417.00,242.73 418.00,243.34 419.00,243.99 420.00,244.68 421.00,245.43 422.00,246.25 423.00,246.69 424.00,247.16 425.00,247.66 426.00,248.19 427.00,248.73 428.00,249.29 429.00,249.87 430.00,250.45 431.00,251.05 432.00,251.64 433.00,252.24 434.00,252.83 435.00,253.41 436.00,253.98 437.00,254.54 438.00,255.08 439.00,255.60 440.00,256.10 441.00,256.56 442.00,257.00 443.00,257.66 444.00,258.27 445.00,258.82 446.00,259.33 447.00,259.81 448.00,260.27 449.00,260.71 450.00,261.14 451.00,261.58 452.00,262.03 453.00,262.50 454.00,263.00 455.00,263.48 456.00,263.98 457.00,264.48 458.00,264.98 459.00,265.49 460.00,266.00 461.00,266.50 462.00,267.01 463.00,267.52 464.00,268.02 465.00,268.52 466.00,269.02 467.00,269.50 468.00,269.98 469.00,270.45 470.00,270.92 471.00,271.39 472.00,271.86 473.00,272.32 474.00,272.78 475.00,273.23 476.00,273.69 477.00,274.14 478.00,274.60 479.00,275.05 480.00,275.50 481.00,275.99 482.00,276.50 483.00,277.00 484.00,277.51 485.00,278.01 486.00,278.52 487.00,279.01 488.00,279.49 489.00,279.96 490.00,280.41 491.00,280.84 492.00,281.25 493.00,281.67 494.00,282.05 495.00,282.42 496.00,282.76 497.00,283.09 498.00,283.41 499.00,283.72 500.00,284.03 501.00,284.35 502.00,284.67 503.00,285.00 504.00,285.34 505.00,285.67 506.00,286.00 507.00,286.32 508.00,286.65 509.00,286.98 510.00,287.31 511.00,287.66 512.00,288.01 513.00,288.37 514.00,288.75 515.00,289.11 516.00,289.49 517.00,289.87 518.00,290.27 519.00,290.67 520.00,291.08 521.00,291.49 522.00,291.90 523.00,292.31 524.00,292.71 525.00,293.11 526.00,293.50 527.00,293.86 528.00,294.23 529.00,294.60 530.00,294.97 531.00,295.34 532.00,295.71 533.00,296.07 534.00,296.43 535.00,296.77 536.00,297.10 537.00,297.42 538.00,297.72 539.00,298.00 540.00,298.28 541.00,298.54 542.00,298.78 543.00,299.00 544.00,299.21 545.00,299.41 546.00,299.60 547.00,299.78 548.00,299.96 549.00,300.14 550.00,300.32 551.00,300.50 552.00,300.67 553.00,300.84 554.00,301.00 555.00,301.16 556.00,301.31 557.00,301.47 558.00,301.62 559.00,301.77 560.00,301.92 561.00,302.06 562.00,302.21 563.00,302.35 564.00,302.50 565.00,302.65 566.00,302.79 567.00,302.94 568.00,303.08 569.00,303.22 570.00,303.36 571.00,303.50 572.00,303.64 573.00,303.78 574.00,303.91 575.00,304.04 576.00,304.17 577.00,304.30 578.00,304.43 579.00,304.56 580.00,304.69 581.00,304.82 582.00,304.94 583.00,305.06 584.00,305.18 585.00,305.29 586.00,305.41 587.00,305.52 588.00,305.64 589.00,305.75 590.00,305.86 591.00,305.97 592.00,306.08 593.00,306.18 594.00,306.29 595.00,306.39 596.00,306.49 597.00,306.59 598.00,306.69 599.00,306.79 600.00,306.90 601.00,307.00 602.00,307.10 603.00,307.19 604.00,307.29 605.00,307.38 606.00,307.48 607.00,307.58 608.00,307.67 609.00,307.77 610.00,307.87 611.00,307.96 612.00,308.06 613.00,308.15 614.00,308.25 615.00,308.35 616.00,308.44 617.00,308.54 618.00,308.64 619.00,308.74 620.00,308.84 621.00,308.94 622.00,309.04 623.00,309.13 624.00,309.23 625.00,309.32 626.00,309.41 627.00,309.50 628.00,309.59 629.00,309.67 630.00,309.75 631.00,309.83 632.00,309.90 633.00,309.97 634.00,310.05 635.00,310.12 636.00,310.21 637.00,310.30 638.00,310.39 639.00,310.50 640.00,310.57 641.00,310.64 642.00,310.72 643.00,310.80 644.00,310.88 645.00,310.96 646.00,311.05 647.00,311.14 648.00,311.23 649.00,311.32 650.00,311.41 651.00,311.50 652.00,311.59 653.00,311.68 654.00,311.77 655.00,311.86 656.00,311.95 657.00,312.03 658.00,312.12 659.00,312.20 660.04,312.29 661.09,312.38 662.13,312.47 663.18,312.55 664.22,312.64 665.27,312.73 666.31,312.81 667.36,312.90 668.40,312.98 669.44,313.07 670.49,313.15 671.53,313.24 672.58,313.32 673.62,313.41 674.67,313.49 675.71,313.58 676.76,313.66 677.80,313.75" stroke="#c544b6" stroke-width="1.45" stroke-dasharray="9 5"/>
<polyline points="29.75,243.00 30.50,245.00 31.25,247.00 32.50,246.50 33.75,244.16 35.00,241.00 36.00,238.85 37.00,236.54 38.00,234.00 39.00,231.88 40.00,229.59 41.00,227.26 42.00,225.00 43.00,222.76 44.00,220.50 45.00,218.37 46.00,216.50 47.00,214.44 48.00,212.78 49.00,211.50 50.12,210.28 51.25,210.00 52.62,210.69 54.00,212.50 55.00,213.96 56.00,215.78 57.00,217.83 58.00,220.00 59.00,222.27 60.00,223.83 61.00,226.23 62.00,230.40 63.10,232.98 64.20,234.60 65.30,236.81 66.40,240.91 67.50,242.91 68.67,245.42 69.83,247.71 71.00,251.54 72.00,253.52 73.00,253.94 74.00,255.66 75.00,257.77 76.00,259.21 77.00,258.69 78.00,258.66 79.00,259.69 80.00,261.29 81.00,261.30 82.00,260.72 83.00,261.22 84.00,262.87 85.00,263.27 86.00,262.32 87.00,262.64 88.00,263.71 89.00,264.90 90.00,264.84 91.00,263.71 92.00,264.65 93.00,266.10 94.00,266.90 95.00,265.89 96.00,266.39 97.00,268.23 98.00,269.30 99.00,269.34 100.00,269.32 101.00,270.29 102.00,272.36 103.00,272.55 104.00,272.70 105.00,273.19 106.00,274.96 107.00,275.82 108.00,274.72 109.00,274.81 110.00,275.46 111.00,276.56 112.00,276.51 113.00,275.49 114.00,276.30 115.00,277.56 116.00,278.01 117.00,276.75 118.00,276.07 119.00,277.90 120.00,278.78 121.07,277.48 122.14,277.17 123.21,277.62 124.29,278.54 125.36,277.82 126.43,277.19 127.50,277.80 128.58,278.70 129.67,277.41 130.75,276.22 131.83,276.18 132.92,277.55 134.00,275.94 135.00,274.33 136.00,274.14 137.00,274.80 138.00,274.51 139.00,272.38 140.00,271.33 141.00,272.53 142.00,272.55 143.00,270.62 144.00,269.53 145.00,269.33 146.00,269.25 147.00,268.91 148.00,266.76 149.00,266.04 150.00,266.40 151.00,265.69 152.00,264.21 153.00,263.21 154.00,263.12 155.00,263.95 156.00,262.01 157.00,260.23 158.00,259.85 159.00,260.82 160.00,259.96 161.00,258.18 162.00,257.28 163.00,257.70 164.00,257.60 165.00,256.22 166.00,254.82 167.00,254.39 168.00,255.19 169.00,253.66 170.00,251.72 171.00,251.13 172.00,251.56 173.00,251.23 174.00,248.99 175.00,247.21 176.00,247.42 177.00,247.56 178.00,245.90 179.00,243.27 180.00,242.94 181.00,243.28 182.00,242.27 183.00,240.72 184.00,239.11 185.00,239.51 186.00,239.19 187.00,237.17 188.00,235.04 189.00,234.99 190.00,235.50 191.00,234.38 192.00,232.20 193.00,231.45 194.00,232.01 195.00,231.29 196.00,229.49 197.00,227.98 198.08,228.31 199.17,228.05 200.25,225.85 201.33,224.04 202.42,223.71 203.50,223.70 204.56,221.90 205.62,219.34 206.69,219.79 207.75,219.41 208.81,217.77 209.88,215.80 210.94,215.56 212.00,216.03 213.00,214.59 214.00,212.33 215.00,212.12 216.00,211.93 217.00,211.26 218.00,210.61 219.00,209.98 220.00,209.36 221.00,208.75 222.00,208.16 223.00,207.59 224.00,207.04 225.00,206.51 226.00,205.99 227.00,205.48 228.00,204.98 229.00,204.49 230.00,204.00 231.06,203.45 232.12,202.91 233.19,202.37 234.25,201.84 235.31,201.34 236.38,200.86 237.44,200.41 238.50,200.00 239.56,199.63 240.62,199.31 241.69,199.01 242.75,198.75 243.81,198.50 244.88,198.26 245.94,198.03 247.00,197.80 248.00,197.60 249.00,197.42 250.00,197.24 251.00,197.08 252.00,196.92 253.00,196.76 254.00,196.60 255.00,196.43 256.00,196.25 257.00,196.04 258.00,195.82 259.00,195.60 260.00,195.37 261.00,195.15 262.00,194.92 263.00,194.71 264.00,194.50 265.00,194.27 266.00,194.06 267.00,193.84 268.00,193.64 269.00,193.43 270.00,193.22 271.00,193.00 272.00,192.82 273.00,192.64 274.00,192.45 275.00,192.26 276.00,192.07 277.00,191.89 278.00,191.71 279.00,191.55 280.00,191.40 281.06,191.24 282.12,191.09 283.19,190.94 284.25,190.81 285.31,190.69 286.38,190.60 287.44,190.53 288.50,190.50 289.56,190.51 290.62,190.55 291.69,190.62 292.75,190.71 293.81,190.82 294.88,190.95 295.94,191.07 297.00,191.20 298.00,191.32 299.00,191.44 300.00,191.57 301.00,191.71 302.00,191.86 303.00,192.01 304.00,192.17 305.00,192.33 306.00,192.50 307.00,192.65 308.00,192.81 309.00,192.97 310.00,193.13 311.00,193.30 312.00,193.48 313.00,193.65 314.00,193.83 315.00,194.01 316.00,194.20 317.00,194.39 318.00,194.58 319.00,194.78 320.00,194.98 321.00,195.18 322.00,195.39 323.00,195.60 324.00,195.82 325.00,196.03 326.00,196.25 327.00,196.52 328.00,196.78 329.00,197.04 330.00,197.31 331.00,197.59 332.00,197.90 333.00,198.23 334.00,198.60 335.00,199.01 336.00,199.45 337.00,199.91 338.00,200.40 339.00,200.91 340.00,201.43 341.00,201.96 342.00,202.50 343.00,202.86 344.00,203.23 345.00,203.60 346.00,203.99 347.00,204.37 348.00,204.76 349.00,205.16 350.00,205.56 351.00,205.96 352.00,206.37 353.00,206.78 354.00,207.20 355.00,207.58 356.00,207.97 357.00,208.35 358.00,208.73 359.00,209.12 360.00,209.51 361.00,209.91 362.00,210.31 363.00,210.72 364.00,211.15 365.00,211.58 366.00,212.03 367.00,212.50 368.00,212.98 369.00,213.49 370.00,214.00 371.00,214.54 372.00,215.08 373.00,215.63 374.00,216.19 375.00,216.75 376.00,217.31 377.00,217.87 378.00,218.42 379.00,218.97 380.00,219.50 381.00,220.07 382.00,220.64 383.00,221.21 384.00,221.77 385.00,222.33 386.00,222.89 387.00,223.45 388.00,224.01 389.00,224.57 390.00,225.13 391.00,225.69 392.00,226.25 393.00,226.81 394.00,227.37 395.00,227.93 396.00,228.49 397.00,229.05 398.00,229.61 399.00,230.17 400.00,230.73 401.00,231.29 402.00,231.86 403.00,232.43 404.00,233.00 405.05,233.69 406.10,234.40 407.15,235.11 408.20,235.82 409.25,236.53 410.30,237.24 411.35,237.95 412.40,238.64 413.45,239.33 414.50,240.00 415.54,240.54 416.58,241.06 417.62,241.56 418.67,242.05 419.71,242.53 420.75,243.02 421.79,243.51 422.83,244.01 423.88,244.53 424.92,245.07 425.96,245.64 427.00,246.25 428.00,246.77 429.00,247.31 430.00,247.88 431.00,248.48 432.00,249.08 433.00,249.70 434.00,250.33 435.00,250.95 436.00,251.58 437.00,252.19 438.00,252.80 439.00,253.39 440.00,253.95 441.00,254.49 442.00,255.00 443.00,255.59 444.00,256.15 445.00,256.68 446.00,257.19 447.00,257.67 448.00,258.14 449.00,258.60 450.00,259.06 451.00,259.53 452.00,260.00 453.00,260.49 454.00,261.00 455.00,261.48 456.00,261.97 457.00,262.47 458.00,262.96 459.00,263.46 460.00,263.97 461.00,264.47 462.00,264.98 463.00,265.48 464.00,265.99 465.00,266.49 466.00,267.00 467.00,267.50 468.00,268.00 469.00,268.51 470.00,269.01 471.00,269.52 472.00,270.02 473.00,270.53 474.00,271.03 475.00,271.54 476.00,272.04 477.00,272.53 478.00,273.03 479.00,273.52 480.00,274.00 481.00,274.52 482.00,275.05 483.00,275.57 484.00,276.09 485.00,276.61 486.00,277.12 487.00,277.63 488.00,278.13 489.00,278.62 490.00,279.09 491.00,279.55 492.00,280.00 493.00,280.46 494.00,280.90 495.00,281.31 496.00,281.70 497.00,282.09 498.00,282.47 499.00,282.85 500.00,283.24 501.00,283.64 502.00,284.06 503.00,284.50 504.00,284.97 505.00,285.45 506.00,285.95 507.00,286.47 508.00,286.99 509.00,287.51 510.00,288.03 511.00,288.55 512.00,289.05 513.00,289.53 514.00,290.00 515.00,290.41 516.00,290.81 517.00,291.20 518.00,291.58 519.00,291.96 520.00,292.33 521.00,292.69 522.00,293.06 523.00,293.42 524.00,293.78 525.00,294.14 526.00,294.50 527.00,294.84 528.00,295.18 529.00,295.52 530.00,295.87 531.00,296.21 532.00,296.55 533.00,296.88 534.00,297.21 535.00,297.54 536.00,297.86 537.00,298.16 538.00,298.46 539.00,298.75 540.00,299.05 541.00,299.33 542.00,299.61 543.00,299.87 544.00,300.12 545.00,300.37 546.00,300.61 547.00,300.85 548.00,301.09 549.00,301.33 550.00,301.56 551.00,301.80 552.00,302.02 553.00,302.24 554.00,302.46 555.00,302.67 556.00,302.88 557.00,303.09 558.00,303.30 559.00,303.51 560.00,303.71 561.00,303.91 562.00,304.11 563.00,304.31 564.00,304.50 565.00,304.69 566.00,304.88 567.00,305.07 568.00,305.25 569.00,305.43 570.00,305.61 571.00,305.78 572.00,305.96 573.00,306.13 574.00,306.30 575.00,306.47 576.00,306.64 577.00,306.80 578.00,306.98 579.00,307.15 580.00,307.32 581.00,307.48 582.00,307.65 583.00,307.81 584.00,307.97 585.00,308.13 586.00,308.28 587.00,308.44 588.00,308.60 589.00,308.75 590.00,308.90 591.00,309.06 592.00,309.21 593.00,309.36 594.00,309.51 595.00,309.65 596.00,309.80 597.00,309.94 598.00,310.08 599.00,310.23 600.00,310.36 601.00,310.50 602.00,310.62 603.00,310.75 604.00,310.87 605.00,311.00 606.00,311.12 607.00,311.24 608.00,311.36 609.00,311.47 610.00,311.58 611.00,311.69 612.00,311.80 613.00,311.90 614.00,312.00 615.00,312.09 616.00,312.18 617.00,312.27 618.00,312.35 619.00,312.43 620.00,312.51 621.00,312.58 622.00,312.66 623.00,312.73 624.00,312.80 625.00,312.86 626.00,312.93 627.00,313.00 628.00,313.07 629.00,313.14 630.00,313.20 631.00,313.26 632.00,313.32 633.00,313.37 634.00,313.43 635.00,313.49 636.00,313.55 637.00,313.61 638.00,313.68 639.00,313.75 640.00,313.80 641.00,313.84 642.00,313.89 643.00,313.94 644.00,313.99 645.00,314.05 646.00,314.10 647.00,314.15 648.00,314.21 649.00,314.26 650.00,314.32 651.00,314.37 652.00,314.43 653.00,314.48 654.00,314.54 655.00,314.59 656.00,314.65 657.00,314.70 658.00,314.75 659.00,314.80 660.04,314.86 661.09,314.91 662.13,314.96 663.18,315.02 664.22,315.07 665.27,315.12 666.31,315.18 667.36,315.23 668.40,315.28 669.44,315.33 670.49,315.39 671.53,315.44 672.58,315.49 673.62,315.54 674.67,315.59 675.71,315.64 676.76,315.70 677.80,315.75" stroke="#0d0d0d" stroke-width="1.45" stroke-dasharray="9 5"/>
<polyline points="27.00,232.00 28.17,230.67 29.33,229.33 30.50,228.00 31.67,226.74 32.83,225.48 34.00,224.00 35.00,222.63 36.00,221.09 37.00,219.51 38.00,218.00 39.00,216.59 40.00,215.22 41.00,213.86 42.00,212.50 43.00,211.10 44.00,209.69 45.00,208.30 46.00,207.00 47.00,205.73 48.00,204.48 49.00,203.37 50.00,202.50 51.25,201.42 52.50,201.25 53.75,202.05 55.00,204.00 56.00,206.09 57.00,208.77 58.00,212.00 59.00,214.79 60.00,217.68 61.00,220.96 62.00,225.18 63.10,229.00 64.20,231.47 65.30,235.05 66.40,239.88 67.50,242.86 68.62,245.38 69.75,248.45 70.88,251.71 72.00,254.84 73.10,255.66 74.20,257.42 75.30,260.26 76.40,261.92 77.50,261.90 78.58,262.53 79.67,264.50 80.75,265.11 81.83,264.28 82.92,263.99 84.00,265.94 85.00,266.43 86.00,265.95 87.00,265.72 88.00,266.66 89.00,267.48 90.00,267.74 91.00,267.66 92.00,268.18 93.00,269.40 94.00,269.99 95.00,269.82 96.00,270.40 97.00,271.57 98.00,272.62 99.00,272.98 100.00,272.81 101.00,273.44 102.00,275.33 103.00,275.50 104.00,275.17 105.00,275.60 106.00,277.26 107.00,277.83 108.00,277.87 109.00,277.97 110.00,279.13 111.00,280.24 112.00,279.92 113.00,279.80 114.00,280.28 115.00,281.71 116.00,282.07 117.00,280.96 118.00,281.25 119.00,282.55 120.00,283.33 121.00,282.24 122.08,281.74 123.17,282.43 124.25,283.42 125.33,282.57 126.42,282.02 127.50,282.35 128.58,282.91 129.67,281.84 130.75,280.47 131.83,280.93 132.92,281.05 134.00,280.17 135.00,279.19 136.00,278.40 137.00,278.79 138.00,278.19 139.00,276.57 140.00,275.79 141.00,275.74 142.00,275.59 143.00,273.10 144.00,271.60 145.00,271.07 146.00,270.74 147.00,269.42 148.00,266.61 149.00,265.30 150.00,265.70 151.00,264.23 152.00,261.79 153.00,259.52 154.00,258.94 155.17,257.77 156.33,254.51 157.50,251.75 158.67,250.30 159.83,248.24 161.00,244.73 162.00,243.43 163.00,240.95 164.00,239.79 165.00,237.23 166.00,235.76 167.00,233.12 168.00,231.88 169.00,228.67 170.00,226.66 171.00,222.66 172.00,220.64 173.00,216.82 174.00,215.03 175.00,211.51 176.17,209.73 177.33,206.85 178.50,205.42 179.50,202.73 180.50,201.68 181.50,198.90 182.50,197.93 183.50,195.18 184.50,194.06 185.50,191.23 186.50,190.46 187.50,187.47 188.50,186.75 189.50,184.32 190.50,183.29 191.50,180.78 192.50,179.81 193.50,177.64 194.50,176.88 195.50,174.08 196.50,173.54 197.50,171.21 198.50,170.42 199.58,168.44 200.67,168.51 201.75,166.94 202.83,166.63 203.92,165.16 205.00,165.54 206.00,163.85 207.00,163.95 208.00,162.49 209.00,162.93 210.00,161.36 211.00,161.67 212.00,160.38 213.00,160.40 214.00,159.27 215.00,159.34 216.00,158.14 217.00,158.20 218.08,157.00 219.17,157.24 220.25,156.19 221.33,156.17 222.42,155.10 223.50,155.34 224.60,154.05 225.70,154.36 226.80,153.57 227.90,153.78 229.00,152.97 230.15,153.36 231.30,152.32 232.45,152.39 233.60,151.63 234.75,152.48 235.80,151.65 236.85,152.90 237.90,152.64 238.95,154.00 240.00,153.52 241.00,154.48 242.00,155.01 243.00,155.58 244.00,156.18 245.00,156.82 246.00,157.50 247.00,158.22 248.00,158.99 249.00,159.79 250.00,160.62 251.00,161.46 252.00,162.30 253.08,163.15 254.17,164.03 255.25,164.92 256.33,165.80 257.42,166.67 258.50,167.50 259.58,168.29 260.67,169.06 261.75,169.81 262.83,170.54 263.92,171.27 265.00,172.00 266.00,172.72 267.00,173.42 268.00,174.11 269.00,174.81 270.00,175.52 271.00,176.25 272.00,177.01 273.00,177.78 274.00,178.56 275.00,179.36 276.00,180.17 277.00,181.00 278.08,181.85 279.17,182.74 280.25,183.64 281.33,184.53 282.42,185.41 283.50,186.25 284.58,187.05 285.67,187.83 286.75,188.59 287.83,189.34 288.92,190.07 290.00,190.80 291.00,191.52 292.00,192.23 293.00,192.92 294.00,193.61 295.00,194.30 296.00,195.00 297.00,195.60 298.00,196.19 299.00,196.78 300.00,197.38 301.00,197.97 302.00,198.58 303.00,199.20 304.00,199.76 305.00,200.33 306.00,200.92 307.00,201.51 308.00,202.09 309.00,202.67 310.00,203.22 311.00,203.75 312.00,204.32 313.00,204.85 314.00,205.37 315.00,205.87 316.00,206.37 317.00,206.88 318.00,207.40 319.00,207.87 320.00,208.35 321.00,208.83 322.00,209.32 323.00,209.80 324.00,210.29 325.00,210.77 326.00,211.25 327.00,211.71 328.00,212.17 329.00,212.61 330.00,213.05 331.00,213.51 332.00,213.98 333.00,214.47 334.00,215.00 335.00,215.56 336.00,216.14 337.00,216.74 338.00,217.36 339.00,218.00 340.00,218.65 341.00,219.32 342.00,220.00 343.00,220.46 344.00,220.94 345.00,221.42 346.00,221.91 347.00,222.40 348.00,222.91 349.00,223.41 350.00,223.93 351.00,224.44 352.00,224.96 353.00,225.48 354.00,226.00 355.00,226.47 356.00,226.94 357.00,227.39 358.00,227.85 359.00,228.30 360.00,228.77 361.00,229.24 362.00,229.72 363.00,230.23 364.00,230.75 365.00,231.30 366.00,231.88 367.00,232.50 368.04,233.22 369.08,233.99 370.12,234.81 371.17,235.67 372.21,236.55 373.25,237.44 374.29,238.33 375.33,239.22 376.38,240.09 377.42,240.94 378.46,241.74 379.50,242.50 380.54,243.21 381.58,243.89 382.62,244.55 383.67,245.19 384.71,245.80 385.75,246.41 386.79,247.00 387.83,247.59 388.88,248.18 389.92,248.78 390.96,249.38 392.00,250.00 393.04,250.62 394.08,251.24 395.12,251.86 396.17,252.48 397.21,253.10 398.25,253.72 399.29,254.34 400.33,254.96 401.38,255.59 402.42,256.22 403.46,256.86 404.50,257.50 405.56,258.37 406.61,259.24 407.67,260.12 408.72,261.01 409.78,261.90 410.83,262.80 411.89,263.70 412.94,264.60 414.00,265.50 415.05,266.32 416.10,267.17 417.15,268.02 418.20,268.88 419.25,269.73 420.30,270.58 421.35,271.41 422.40,272.22 423.45,273.00 424.50,273.75 425.56,274.63 426.62,275.45 427.69,276.24 428.75,277.00 429.81,277.74 430.88,278.48 431.94,279.23 433.00,280.00 434.00,280.70 435.00,281.41 436.00,282.12 437.00,282.83 438.00,283.54 439.00,284.24 440.00,284.93 441.00,285.60 442.00,286.25 443.00,286.82 444.00,287.37 445.00,287.91 446.00,288.45 447.00,288.97 448.00,289.48 449.00,289.99 450.00,290.50 451.00,291.00 452.00,291.50 453.00,292.00 454.00,292.49 455.00,292.99 456.00,293.47 457.00,293.96 458.00,294.43 459.00,294.90 460.00,295.36 461.00,295.81 462.00,296.25 463.00,296.68 464.00,297.10 465.00,297.51 466.00,297.91 467.00,298.30 468.00,298.69 469.00,299.07 470.00,299.45 471.00,299.82 472.00,300.20 473.00,300.57 474.00,300.95 475.00,301.32 476.00,301.69 477.00,302.05 478.00,302.41 479.00,302.76 480.00,303.10 481.00,303.43 482.00,303.75 483.00,304.06 484.00,304.36 485.00,304.65 486.00,304.93 487.00,305.21 488.00,305.47 489.00,305.74 490.00,305.99 491.00,306.25 492.00,306.50 493.00,306.74 494.00,306.97 495.00,307.18 496.00,307.39 497.00,307.59 498.00,307.80 499.00,308.02 500.00,308.24 501.00,308.49 502.00,308.75 503.00,309.01 504.00,309.30 505.00,309.61 506.00,309.92 507.00,310.25 508.00,310.57 509.00,310.89 510.00,311.20 511.00,311.49 512.00,311.76 513.00,312.00 514.00,312.18 515.00,312.35 516.00,312.51 517.00,312.65 518.00,312.78 519.00,312.91 520.00,313.03 521.00,313.15 522.00,313.26 523.00,313.37 524.00,313.48 525.00,313.59 526.00,313.70 527.00,313.81 528.00,313.92 529.00,314.03 530.00,314.13 531.00,314.23 532.00,314.33 533.00,314.42 534.00,314.52 535.00,314.61 536.00,314.71 537.00,314.80 538.00,314.90 539.00,315.00 540.00,315.11 541.00,315.22 542.00,315.33 543.00,315.44 544.00,315.56 545.00,315.67 546.00,315.78 547.00,315.89 548.00,316.00 549.00,316.10 550.00,316.20 551.00,316.30 552.00,316.39 553.00,316.47 554.00,316.56 555.00,316.64 556.00,316.72 557.00,316.80 558.00,316.88 559.00,316.96 560.00,317.03 561.00,317.10 562.00,317.17 563.00,317.24 564.00,317.30 565.00,317.36 566.00,317.42 567.00,317.47 568.00,317.52 569.00,317.57 570.00,317.62 571.00,317.66 572.00,317.70 573.00,317.74 574.00,317.78 575.00,317.82 576.00,317.86 577.00,317.90 578.00,317.94 579.00,317.98 580.00,318.01 581.00,318.04 582.00,318.08 583.00,318.11 584.00,318.14 585.00,318.17 586.00,318.20 587.00,318.23 588.00,318.26 589.00,318.30 590.00,318.33 591.00,318.35 592.00,318.38 593.00,318.41 594.00,318.44 595.00,318.47 596.00,318.50 597.00,318.53 598.00,318.57 599.00,318.60 600.00,318.63 601.00,318.66 602.00,318.69 603.00,318.72 604.00,318.75 605.00,318.77 606.00,318.80 607.00,318.83 608.00,318.85 609.00,318.87 610.00,318.88 611.00,318.90 612.00,318.91 613.00,318.93 614.00,318.94 615.00,318.96 616.00,318.98 617.00,319.00 618.00,319.03 619.00,319.06 620.00,319.10 621.00,319.15 622.00,319.20 623.00,319.29 624.00,319.40 625.00,319.51 626.00,319.64 627.00,319.77 628.00,319.92 629.00,320.07 630.00,320.24 631.00,320.41 632.00,320.60 633.00,320.75 634.00,320.91 635.00,321.09 636.00,321.26 637.00,321.45 638.00,321.64 639.00,321.83 640.00,322.03 641.00,322.23 642.00,322.43 643.00,322.62 644.00,322.81 645.00,323.00" stroke="#72c0f4" stroke-width="1.45" stroke-dasharray="9 5"/>
</g>
<rect x="30.5" y="151.0" width="647.3" height="168.5" fill="none" stroke="#333" stroke-width="0.8"/>
<line x1="73.25" y1="319.5" x2="73.25" y2="313.2" stroke="#333" stroke-width="0.7"/>
<line x1="73.25" y1="151.0" x2="73.25" y2="157.3" stroke="#333" stroke-width="0.7"/>
<text x="73.25" y="332.6" font-size="10" fill="#222" text-anchor="middle" letter-spacing="0.35">420</text>
<line x1="140.32" y1="319.5" x2="140.32" y2="313.2" stroke="#333" stroke-width="0.7"/>
<line x1="140.32" y1="151.0" x2="140.32" y2="157.3" stroke="#333" stroke-width="0.7"/>
<text x="140.32" y="332.6" font-size="10" fill="#222" text-anchor="middle" letter-spacing="0.35">440</text>
<line x1="207.39" y1="319.5" x2="207.39" y2="313.2" stroke="#333" stroke-width="0.7"/>
<line x1="207.39" y1="151.0" x2="207.39" y2="157.3" stroke="#333" stroke-width="0.7"/>
<text x="207.39" y="332.6" font-size="10" fill="#222" text-anchor="middle" letter-spacing="0.35">460</text>
<line x1="274.46" y1="319.5" x2="274.46" y2="313.2" stroke="#333" stroke-width="0.7"/>
<line x1="274.46" y1="151.0" x2="274.46" y2="157.3" stroke="#333" stroke-width="0.7"/>
<text x="274.46" y="332.6" font-size="10" fill="#222" text-anchor="middle" letter-spacing="0.35">480</text>
<line x1="341.53" y1="319.5" x2="341.53" y2="313.2" stroke="#333" stroke-width="0.7"/>
<line x1="341.53" y1="151.0" x2="341.53" y2="157.3" stroke="#333" stroke-width="0.7"/>
<text x="341.53" y="332.6" font-size="10" fill="#222" text-anchor="middle" letter-spacing="0.35">500</text>
<line x1="408.60" y1="319.5" x2="408.60" y2="313.2" stroke="#333" stroke-width="0.7"/>
<line x1="408.60" y1="151.0" x2="408.60" y2="157.3" stroke="#333" stroke-width="0.7"/>
<text x="408.60" y="332.6" font-size="10" fill="#222" text-anchor="middle" letter-spacing="0.35">520</text>
<line x1="475.67" y1="319.5" x2="475.67" y2="313.2" stroke="#333" stroke-width="0.7"/>
<line x1="475.67" y1="151.0" x2="475.67" y2="157.3" stroke="#333" stroke-width="0.7"/>
<text x="475.67" y="332.6" font-size="10" fill="#222" text-anchor="middle" letter-spacing="0.35">540</text>
<line x1="542.74" y1="319.5" x2="542.74" y2="313.2" stroke="#333" stroke-width="0.7"/>
<line x1="542.74" y1="151.0" x2="542.74" y2="157.3" stroke="#333" stroke-width="0.7"/>
<text x="542.74" y="332.6" font-size="10" fill="#222" text-anchor="middle" letter-spacing="0.35">560</text>
<line x1="609.81" y1="319.5" x2="609.81" y2="313.2" stroke="#333" stroke-width="0.7"/>
<line x1="609.81" y1="151.0" x2="609.81" y2="157.3" stroke="#333" stroke-width="0.7"/>
<text x="609.81" y="332.6" font-size="10" fill="#222" text-anchor="middle" letter-spacing="0.35">580</text>
<text x="676.50" y="332.6" font-size="10" fill="#222" text-anchor="middle" letter-spacing="0.35">600</text>
<line x1="30.5" y1="300.75" x2="36.8" y2="300.75" stroke="#333" stroke-width="0.7"/>
<line x1="677.8" y1="300.75" x2="671.5" y2="300.75" stroke="#333" stroke-width="0.7"/>
<text x="26.4" y="304.05" font-size="10" fill="#222" text-anchor="end" letter-spacing="0.3">10</text>
<line x1="30.5" y1="263.25" x2="36.8" y2="263.25" stroke="#333" stroke-width="0.7"/>
<line x1="677.8" y1="263.25" x2="671.5" y2="263.25" stroke="#333" stroke-width="0.7"/>
<text x="26.4" y="266.55" font-size="10" fill="#222" text-anchor="end" letter-spacing="0.3">20</text>
<line x1="30.5" y1="225.75" x2="36.8" y2="225.75" stroke="#333" stroke-width="0.7"/>
<line x1="677.8" y1="225.75" x2="671.5" y2="225.75" stroke="#333" stroke-width="0.7"/>
<text x="26.4" y="229.05" font-size="10" fill="#222" text-anchor="end" letter-spacing="0.3">30</text>
<line x1="30.5" y1="188.25" x2="36.8" y2="188.25" stroke="#333" stroke-width="0.7"/>
<line x1="677.8" y1="188.25" x2="671.5" y2="188.25" stroke="#333" stroke-width="0.7"/>
<text x="26.4" y="191.55" font-size="10" fill="#222" text-anchor="end" letter-spacing="0.3">40</text>
<text x="26.4" y="154.05" font-size="10" fill="#222" text-anchor="end" letter-spacing="0.3">50</text>
<text x="353.8" y="345.8" font-size="11" fill="#222" text-anchor="middle" textLength="50" lengthAdjust="spacing">Time (ms)</text>
<text transform="translate(7.8 233.5) rotate(-90)" font-size="11" fill="#222" text-anchor="middle" textLength="125" lengthAdjust="spacing">Ground reaction force (N)</text>
<rect x="528.2" y="158.8" width="138.8" height="85.2" fill="#fff" stroke="#333" stroke-width="0.8"/>
<line x1="532" y1="167.40" x2="568.7" y2="167.40" stroke="#38e61e" stroke-width="0.8"/>
<text x="572.2" y="171.00" font-size="11" fill="#222" textLength="55.8" lengthAdjust="spacing">CD 0.5 mm</text>
<line x1="532" y1="181.06" x2="568.7" y2="181.06" stroke="#5a5cc8" stroke-width="0.8"/>
<text x="572.2" y="184.66" font-size="11" fill="#222" textLength="46.8" lengthAdjust="spacing">CD 2 mm</text>
<line x1="532" y1="194.72" x2="568.7" y2="194.72" stroke="#f8463a" stroke-width="0.8"/>
<text x="572.2" y="198.32" font-size="11" fill="#222" textLength="46.8" lengthAdjust="spacing">CD 5 mm</text>
<line x1="532" y1="208.38" x2="568.7" y2="208.38" stroke="#c647b8" stroke-width="1.5" stroke-dasharray="9.4 5.4"/>
<text x="572.2" y="211.98" font-size="11" fill="#222" textLength="91.5" lengthAdjust="spacing">VD 3 - 0.5 mm 40°</text>
<line x1="532" y1="222.04" x2="568.7" y2="222.04" stroke="#0d0d0d" stroke-width="1.5" stroke-dasharray="9.4 5.4"/>
<text x="572.2" y="225.64" font-size="11" fill="#222" textLength="91.5" lengthAdjust="spacing">VD 3 - 0.5 mm 50°</text>
<line x1="532" y1="235.70" x2="568.7" y2="235.70" stroke="#74c2f4" stroke-width="1.5" stroke-dasharray="9.4 5.4"/>
<text x="572.2" y="239.30" font-size="11" fill="#222" textLength="91.5" lengthAdjust="spacing">VD 3 - 0.5 mm 60°</text>
</svg>
</body></html>
